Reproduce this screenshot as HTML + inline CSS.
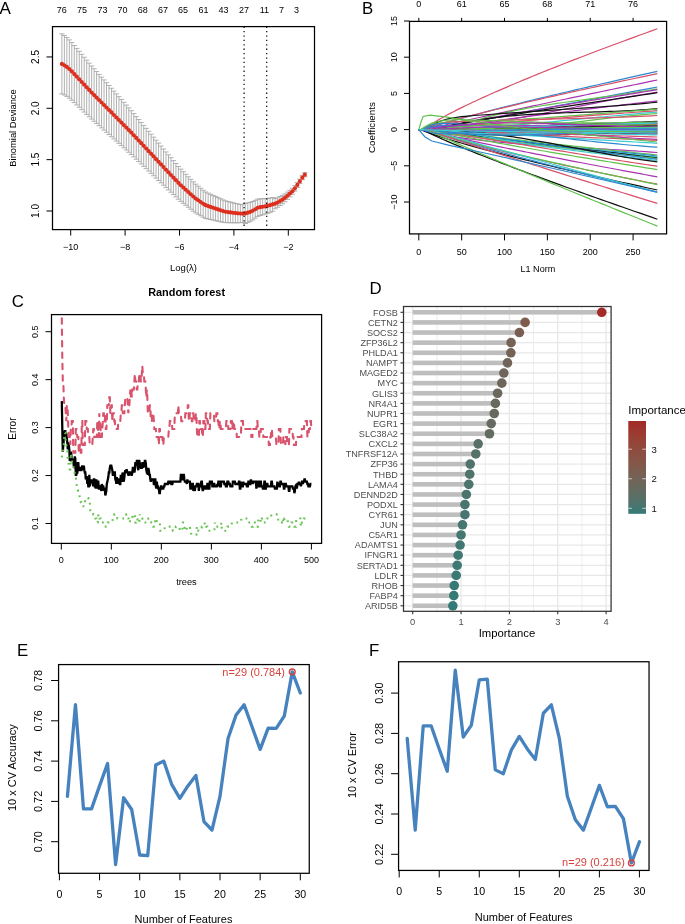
<!DOCTYPE html>
<html><head><meta charset="utf-8"><style>
html,body{margin:0;padding:0;background:#fff;width:685px;height:924px;overflow:hidden}
svg{display:block;filter:blur(0.3px);font-family:"Liberation Sans", sans-serif}
</style></head><body>
<svg width="685" height="924" viewBox="0 0 685 924">
<text x="-0.6" y="8.3" font-size="17" text-anchor="start" fill="#000" dominant-baseline="central">A</text>
<text x="61.7" y="9.7" font-size="9" text-anchor="middle" fill="#000" dominant-baseline="central">76</text>
<text x="82" y="9.7" font-size="9" text-anchor="middle" fill="#000" dominant-baseline="central">75</text>
<text x="102.5" y="9.7" font-size="9" text-anchor="middle" fill="#000" dominant-baseline="central">73</text>
<text x="122.4" y="9.7" font-size="9" text-anchor="middle" fill="#000" dominant-baseline="central">70</text>
<text x="142.7" y="9.7" font-size="9" text-anchor="middle" fill="#000" dominant-baseline="central">68</text>
<text x="163" y="9.7" font-size="9" text-anchor="middle" fill="#000" dominant-baseline="central">67</text>
<text x="183.1" y="9.7" font-size="9" text-anchor="middle" fill="#000" dominant-baseline="central">65</text>
<text x="203.4" y="9.7" font-size="9" text-anchor="middle" fill="#000" dominant-baseline="central">61</text>
<text x="223.6" y="9.7" font-size="9" text-anchor="middle" fill="#000" dominant-baseline="central">43</text>
<text x="244" y="9.7" font-size="9" text-anchor="middle" fill="#000" dominant-baseline="central">27</text>
<text x="264.3" y="9.7" font-size="9" text-anchor="middle" fill="#000" dominant-baseline="central">11</text>
<text x="281.4" y="9.7" font-size="9" text-anchor="middle" fill="#000" dominant-baseline="central">7</text>
<text x="296.6" y="9.7" font-size="9" text-anchor="middle" fill="#000" dominant-baseline="central">3</text>
<g stroke="#acacac" stroke-width="0.95">
<path d="M61.9 33.89V93.91M59.3 33.89H64.5M59.3 93.91H64.5"/>
<path d="M64.38 35.57V95.01M61.78 35.57H66.98M61.78 95.01H66.98"/>
<path d="M66.86 37.49V96.35M64.26 37.49H69.46M64.26 96.35H69.46"/>
<path d="M69.34 39.86V98.15M66.74 39.86H71.94M66.74 98.15H71.94"/>
<path d="M71.81 42.56V100.26M69.21 42.56H74.41M69.21 100.26H74.41"/>
<path d="M74.29 45.5V102.62M71.69 45.5H76.89M71.69 102.62H76.89"/>
<path d="M76.77 48.43V104.98M74.17 48.43H79.37M74.17 104.98H79.37"/>
<path d="M79.25 51.37V107.33M76.65 51.37H81.85M76.65 107.33H81.85"/>
<path d="M81.73 54.31V109.69M79.13 54.31H84.33M79.13 109.69H84.33"/>
<path d="M84.21 57.25V112.05M81.61 57.25H86.81M81.61 112.05H86.81"/>
<path d="M86.69 60.18V114.41M84.09 60.18H89.29M84.09 114.41H89.29"/>
<path d="M89.16 63.12V116.77M86.56 63.12H91.76M86.56 116.77H91.76"/>
<path d="M91.64 66.01V119.08M89.04 66.01H94.24M89.04 119.08H94.24"/>
<path d="M94.12 68.8V121.28M91.52 68.8H96.72M91.52 121.28H96.72"/>
<path d="M96.6 71.58V123.48M94 71.58H99.2M94 123.48H99.2"/>
<path d="M99.08 74.36V125.68M96.48 74.36H101.68M96.48 125.68H101.68"/>
<path d="M101.56 77.14V127.88M98.96 77.14H104.16M98.96 127.88H104.16"/>
<path d="M104.04 79.92V130.08M101.44 79.92H106.64M101.44 130.08H106.64"/>
<path d="M106.51 82.7V132.28M103.91 82.7H109.11M103.91 132.28H109.11"/>
<path d="M108.99 85.48V134.48M106.39 85.48H111.59M106.39 134.48H111.59"/>
<path d="M111.47 88.26V136.69M108.87 88.26H114.07M108.87 136.69H114.07"/>
<path d="M113.95 91.07V138.91M111.35 91.07H116.55M111.35 138.91H116.55"/>
<path d="M116.43 93.87V141.14M113.83 93.87H119.03M113.83 141.14H119.03"/>
<path d="M118.91 96.68V143.36M116.31 96.68H121.51M116.31 143.36H121.51"/>
<path d="M121.39 99.48V145.59M118.79 99.48H123.99M118.79 145.59H123.99"/>
<path d="M123.86 102.29V147.81M121.26 102.29H126.46M121.26 147.81H126.46"/>
<path d="M126.34 105.09V150.04M123.74 105.09H128.94M123.74 150.04H128.94"/>
<path d="M128.82 107.9V152.26M126.22 107.9H131.42M126.22 152.26H131.42"/>
<path d="M131.3 110.7V154.49M128.7 110.7H133.9M128.7 154.49H133.9"/>
<path d="M133.78 113.62V156.83M131.18 113.62H136.38M131.18 156.83H136.38"/>
<path d="M136.26 116.57V159.19M133.66 116.57H138.86M133.66 159.19H138.86"/>
<path d="M138.74 119.51V161.56M136.14 119.51H141.34M136.14 161.56H141.34"/>
<path d="M141.21 122.46V163.92M138.61 122.46H143.81M138.61 163.92H143.81"/>
<path d="M143.69 125.4V166.29M141.09 125.4H146.29M141.09 166.29H146.29"/>
<path d="M146.17 128.35V168.65M143.57 128.35H148.77M143.57 168.65H148.77"/>
<path d="M148.65 131.29V171.02M146.05 131.29H151.25M146.05 171.02H151.25"/>
<path d="M151.13 134.24V173.38M148.53 134.24H153.73M148.53 173.38H153.73"/>
<path d="M153.61 137.19V175.76M151.01 137.19H156.21M151.01 175.76H156.21"/>
<path d="M156.09 140.14V178.13M153.49 140.14H158.69M153.49 178.13H158.69"/>
<path d="M158.56 143.09V180.5M155.96 143.09H161.16M155.96 180.5H161.16"/>
<path d="M161.04 146.05V182.87M158.44 146.05H163.64M158.44 182.87H163.64"/>
<path d="M163.52 149V185.24M160.92 149H166.12M160.92 185.24H166.12"/>
<path d="M166 151.93V187.59M163.4 151.93H168.6M163.4 187.59H168.6"/>
<path d="M168.48 154.83V189.91M165.88 154.83H171.08M165.88 189.91H171.08"/>
<path d="M170.96 157.73V192.23M168.36 157.73H173.56M168.36 192.23H173.56"/>
<path d="M173.44 160.63V194.56M170.84 160.63H176.04M170.84 194.56H176.04"/>
<path d="M175.91 163.53V196.88M173.31 163.53H178.51M173.31 196.88H178.51"/>
<path d="M178.39 166.44V199.2M175.79 166.44H180.99M175.79 199.2H180.99"/>
<path d="M180.87 169.18V201.36M178.27 169.18H183.47M178.27 201.36H183.47"/>
<path d="M183.35 171.71V203.32M180.75 171.71H185.95M180.75 203.32H185.95"/>
<path d="M185.83 174.25V205.27M183.23 174.25H188.43M183.23 205.27H188.43"/>
<path d="M188.31 176.79V207.23M185.71 176.79H190.91M185.71 207.23H190.91"/>
<path d="M190.79 179.32V209.19M188.19 179.32H193.39M188.19 209.19H193.39"/>
<path d="M193.26 181.86V211.14M190.66 181.86H195.86M190.66 211.14H195.86"/>
<path d="M195.74 184.18V212.88M193.14 184.18H198.34M193.14 212.88H198.34"/>
<path d="M198.22 186.2V214.32M195.62 186.2H200.82M195.62 214.32H200.82"/>
<path d="M200.7 188.22V215.77M198.1 188.22H203.3M198.1 215.77H203.3"/>
<path d="M203.18 190.24V217.21M200.58 190.24H205.78M200.58 217.21H205.78"/>
<path d="M205.66 192.03V218.41M203.06 192.03H208.26M203.06 218.41H208.26"/>
<path d="M208.14 193.16V218.96M205.54 193.16H210.74M205.54 218.96H210.74"/>
<path d="M210.61 194.29V219.51M208.01 194.29H213.21M208.01 219.51H213.21"/>
<path d="M213.09 195.42V220.06M210.49 195.42H215.69M210.49 220.06H215.69"/>
<path d="M215.57 196.55V220.61M212.97 196.55H218.17M212.97 220.61H218.17"/>
<path d="M218.05 197.67V221.16M215.45 197.67H220.65M215.45 221.16H220.65"/>
<path d="M220.53 198.8V221.71M217.93 198.8H223.13M217.93 221.71H223.13"/>
<path d="M223.01 199.93V222.26M220.41 199.93H225.61M220.41 222.26H225.61"/>
<path d="M225.49 200.86V222.61M222.89 200.86H228.09M222.89 222.61H228.09"/>
<path d="M227.96 201.5V222.66M225.36 201.5H230.56M225.36 222.66H230.56"/>
<path d="M230.44 202.13V222.72M227.84 202.13H233.04M227.84 222.72H233.04"/>
<path d="M232.92 202.77V222.77M230.32 202.77H235.52M230.32 222.77H235.52"/>
<path d="M235.4 203.4V222.83M232.8 203.4H238M232.8 222.83H238"/>
<path d="M237.88 203.91V222.76M235.28 203.91H240.48M235.28 222.76H240.48"/>
<path d="M240.36 204.38V222.65M237.76 204.38H242.96M237.76 222.65H242.96"/>
<path d="M242.84 204.85V222.54M240.24 204.85H245.44M240.24 222.54H245.44"/>
<path d="M245.31 203.41V223.51M242.71 203.41H247.91M242.71 223.51H247.91"/>
<path d="M247.79 202.87V222.4M245.19 202.87H250.39M245.19 222.4H250.39"/>
<path d="M250.27 202.34V221.28M247.67 202.34H252.87M247.67 221.28H252.87"/>
<path d="M252.75 201.55V219.92M250.15 201.55H255.35M250.15 219.92H255.35"/>
<path d="M255.23 200.36V218.15M252.63 200.36H257.83M252.63 218.15H257.83"/>
<path d="M257.71 199.17V216.38M255.11 199.17H260.31M255.11 216.38H260.31"/>
<path d="M260.19 198.89V215.52M257.59 198.89H262.79M257.59 215.52H262.79"/>
<path d="M262.66 198.74V214.78M260.06 198.74H265.26M260.06 214.78H265.26"/>
<path d="M265.14 198.58V214.05M262.54 198.58H267.74M262.54 214.05H267.74"/>
<path d="M267.62 198.43V213.31M265.02 198.43H270.22M265.02 213.31H270.22"/>
<path d="M270.1 198.03V212.33M267.5 198.03H272.7M267.5 212.33H272.7"/>
<path d="M272.58 197.58V211.31M269.98 197.58H275.18M269.98 211.31H275.18"/>
<path d="M275.06 198.64V208.78M272.46 198.64H277.66M272.46 208.78H277.66"/>
<path d="M277.54 197.76V207.32M274.94 197.76H280.14M274.94 207.32H280.14"/>
<path d="M280.01 196.56V205.54M277.41 196.56H282.61M277.41 205.54H282.61"/>
<path d="M282.49 195.36V203.77M279.89 195.36H285.09M279.89 203.77H285.09"/>
<path d="M284.97 193.94V201.77M282.37 193.94H287.57M282.37 201.77H287.57"/>
<path d="M287.45 192.12V199.36M284.85 192.12H290.05M284.85 199.36H290.05"/>
<path d="M289.93 190.24V196.9M287.33 190.24H292.53M287.33 196.9H292.53"/>
<path d="M292.41 188.19V194.27M289.81 188.19H295.01M289.81 194.27H295.01"/>
<path d="M294.89 185.54V191.04M292.29 185.54H297.49M292.29 191.04H297.49"/>
<path d="M297.36 182.51V187.43M294.76 182.51H299.96M294.76 187.43H299.96"/>
<path d="M299.84 179.16V183.51M297.24 179.16H302.44M297.24 183.51H302.44"/>
<path d="M302.32 175.66V179.66M299.72 175.66H304.92M299.72 179.66H304.92"/>
<path d="M304.8 172.7V176.7M302.2 172.7H307.4M302.2 176.7H307.4"/>
</g>
<g fill="#dd2e1e">
<circle cx="61.9" cy="63.9" r="2.1"/>
<circle cx="64.38" cy="65.29" r="2.1"/>
<circle cx="66.86" cy="66.92" r="2.1"/>
<circle cx="69.34" cy="69.01" r="2.1"/>
<circle cx="71.81" cy="71.41" r="2.1"/>
<circle cx="74.29" cy="74.06" r="2.1"/>
<circle cx="76.77" cy="76.7" r="2.1"/>
<circle cx="79.25" cy="79.35" r="2.1"/>
<circle cx="81.73" cy="82" r="2.1"/>
<circle cx="84.21" cy="84.65" r="2.1"/>
<circle cx="86.69" cy="87.3" r="2.1"/>
<circle cx="89.16" cy="89.95" r="2.1"/>
<circle cx="91.64" cy="92.55" r="2.1"/>
<circle cx="94.12" cy="95.04" r="2.1"/>
<circle cx="96.6" cy="97.53" r="2.1"/>
<circle cx="99.08" cy="100.02" r="2.1"/>
<circle cx="101.56" cy="102.51" r="2.1"/>
<circle cx="104.04" cy="105" r="2.1"/>
<circle cx="106.51" cy="107.49" r="2.1"/>
<circle cx="108.99" cy="109.98" r="2.1"/>
<circle cx="111.47" cy="112.47" r="2.1"/>
<circle cx="113.95" cy="114.99" r="2.1"/>
<circle cx="116.43" cy="117.5" r="2.1"/>
<circle cx="118.91" cy="120.02" r="2.1"/>
<circle cx="121.39" cy="122.53" r="2.1"/>
<circle cx="123.86" cy="125.05" r="2.1"/>
<circle cx="126.34" cy="127.56" r="2.1"/>
<circle cx="128.82" cy="130.08" r="2.1"/>
<circle cx="131.3" cy="132.59" r="2.1"/>
<circle cx="133.78" cy="135.23" r="2.1"/>
<circle cx="136.26" cy="137.88" r="2.1"/>
<circle cx="138.74" cy="140.54" r="2.1"/>
<circle cx="141.21" cy="143.19" r="2.1"/>
<circle cx="143.69" cy="145.84" r="2.1"/>
<circle cx="146.17" cy="148.5" r="2.1"/>
<circle cx="148.65" cy="151.15" r="2.1"/>
<circle cx="151.13" cy="153.81" r="2.1"/>
<circle cx="153.61" cy="156.47" r="2.1"/>
<circle cx="156.09" cy="159.13" r="2.1"/>
<circle cx="158.56" cy="161.8" r="2.1"/>
<circle cx="161.04" cy="164.46" r="2.1"/>
<circle cx="163.52" cy="167.12" r="2.1"/>
<circle cx="166" cy="169.76" r="2.1"/>
<circle cx="168.48" cy="172.37" r="2.1"/>
<circle cx="170.96" cy="174.98" r="2.1"/>
<circle cx="173.44" cy="177.59" r="2.1"/>
<circle cx="175.91" cy="180.21" r="2.1"/>
<circle cx="178.39" cy="182.82" r="2.1"/>
<circle cx="180.87" cy="185.27" r="2.1"/>
<circle cx="183.35" cy="187.52" r="2.1"/>
<circle cx="185.83" cy="189.76" r="2.1"/>
<circle cx="188.31" cy="192.01" r="2.1"/>
<circle cx="190.79" cy="194.25" r="2.1"/>
<circle cx="193.26" cy="196.5" r="2.1"/>
<circle cx="195.74" cy="198.53" r="2.1"/>
<circle cx="198.22" cy="200.26" r="2.1"/>
<circle cx="200.7" cy="201.99" r="2.1"/>
<circle cx="203.18" cy="203.73" r="2.1"/>
<circle cx="205.66" cy="205.22" r="2.1"/>
<circle cx="208.14" cy="206.06" r="2.1"/>
<circle cx="210.61" cy="206.9" r="2.1"/>
<circle cx="213.09" cy="207.74" r="2.1"/>
<circle cx="215.57" cy="208.58" r="2.1"/>
<circle cx="218.05" cy="209.42" r="2.1"/>
<circle cx="220.53" cy="210.26" r="2.1"/>
<circle cx="223.01" cy="211.09" r="2.1"/>
<circle cx="225.49" cy="211.74" r="2.1"/>
<circle cx="227.96" cy="212.08" r="2.1"/>
<circle cx="230.44" cy="212.43" r="2.1"/>
<circle cx="232.92" cy="212.77" r="2.1"/>
<circle cx="235.4" cy="213.12" r="2.1"/>
<circle cx="237.88" cy="213.34" r="2.1"/>
<circle cx="240.36" cy="213.51" r="2.1"/>
<circle cx="242.84" cy="213.69" r="2.1"/>
<circle cx="245.31" cy="213.46" r="2.1"/>
<circle cx="247.79" cy="212.64" r="2.1"/>
<circle cx="250.27" cy="211.81" r="2.1"/>
<circle cx="252.75" cy="210.73" r="2.1"/>
<circle cx="255.23" cy="209.25" r="2.1"/>
<circle cx="257.71" cy="207.77" r="2.1"/>
<circle cx="260.19" cy="207.21" r="2.1"/>
<circle cx="262.66" cy="206.76" r="2.1"/>
<circle cx="265.14" cy="206.31" r="2.1"/>
<circle cx="267.62" cy="205.87" r="2.1"/>
<circle cx="270.1" cy="205.18" r="2.1"/>
<circle cx="272.58" cy="204.44" r="2.1"/>
<circle cx="275.06" cy="203.71" r="2.1"/>
<circle cx="277.54" cy="202.54" r="2.1"/>
<circle cx="280.01" cy="201.05" r="2.1"/>
<circle cx="282.49" cy="199.56" r="2.1"/>
<circle cx="284.97" cy="197.86" r="2.1"/>
<circle cx="287.45" cy="195.74" r="2.1"/>
<circle cx="289.93" cy="193.57" r="2.1"/>
<circle cx="292.41" cy="191.23" r="2.1"/>
<circle cx="294.89" cy="188.29" r="2.1"/>
<circle cx="297.36" cy="184.97" r="2.1"/>
<circle cx="299.84" cy="181.34" r="2.1"/>
<circle cx="302.32" cy="177.66" r="2.1"/>
<circle cx="304.8" cy="174.7" r="2.1"/>
</g>
<line x1="244.1" y1="26.6" x2="244.1" y2="229.6" stroke="#000" stroke-width="1.2" stroke-dasharray="1.3 3.1"/>
<line x1="266.7" y1="26.6" x2="266.7" y2="229.6" stroke="#000" stroke-width="1.2" stroke-dasharray="1.3 3.1"/>
<rect x="52.5" y="26.6" width="262" height="203" stroke="#000" stroke-width="1.25" fill="none"/>
<line x1="70.7" y1="229.6" x2="70.7" y2="235.6" stroke="#000" stroke-width="1"/>
<text x="70.7" y="246.8" font-size="9" text-anchor="middle" fill="#000" dominant-baseline="central">&#8722;10</text>
<line x1="125.1" y1="229.6" x2="125.1" y2="235.6" stroke="#000" stroke-width="1"/>
<text x="125.1" y="246.8" font-size="9" text-anchor="middle" fill="#000" dominant-baseline="central">&#8722;8</text>
<line x1="179.5" y1="229.6" x2="179.5" y2="235.6" stroke="#000" stroke-width="1"/>
<text x="179.5" y="246.8" font-size="9" text-anchor="middle" fill="#000" dominant-baseline="central">&#8722;6</text>
<line x1="233.9" y1="229.6" x2="233.9" y2="235.6" stroke="#000" stroke-width="1"/>
<text x="233.9" y="246.8" font-size="9" text-anchor="middle" fill="#000" dominant-baseline="central">&#8722;4</text>
<line x1="288.3" y1="229.6" x2="288.3" y2="235.6" stroke="#000" stroke-width="1"/>
<text x="288.3" y="246.8" font-size="9" text-anchor="middle" fill="#000" dominant-baseline="central">&#8722;2</text>
<line x1="46.5" y1="211" x2="52.5" y2="211" stroke="#000" stroke-width="1"/>
<text x="35.6" y="211" font-size="10" text-anchor="middle" fill="#000" transform="rotate(-90 35.6 211)" dominant-baseline="central">1.0</text>
<line x1="46.5" y1="159.65" x2="52.5" y2="159.65" stroke="#000" stroke-width="1"/>
<text x="35.6" y="159.65" font-size="10" text-anchor="middle" fill="#000" transform="rotate(-90 35.6 159.65)" dominant-baseline="central">1.5</text>
<line x1="46.5" y1="108.3" x2="52.5" y2="108.3" stroke="#000" stroke-width="1"/>
<text x="35.6" y="108.3" font-size="10" text-anchor="middle" fill="#000" transform="rotate(-90 35.6 108.3)" dominant-baseline="central">2.0</text>
<line x1="46.5" y1="56.95" x2="52.5" y2="56.95" stroke="#000" stroke-width="1"/>
<text x="35.6" y="56.95" font-size="10" text-anchor="middle" fill="#000" transform="rotate(-90 35.6 56.95)" dominant-baseline="central">2.5</text>
<text x="13.4" y="128" font-size="9.35" text-anchor="middle" fill="#000" transform="rotate(-90 13.4 128)" dominant-baseline="central">Binomial Deviance</text>
<text x="183.5" y="267" font-size="9.5" text-anchor="middle" fill="#000" dominant-baseline="central">Log(&#955;)</text>
<text x="362" y="8" font-size="16.8" text-anchor="start" fill="#000" dominant-baseline="central">B</text>
<clipPath id="cb"><rect x="409.5" y="21.4" width="257.1" height="212.5"/></clipPath>
<g clip-path="url(#cb)" fill="none" stroke-width="1.2">
<path d="M418.8 129.6 L424.42 129.6 L424.93 128.98 L425.84 128.14 L427.03 127.18 L428.43 126.14 L430.03 125.03 L431.79 123.87 L433.71 122.66 L435.76 121.4 L437.96 120.11 L440.27 118.77 L442.71 117.41 L445.26 116.01 L447.91 114.59 L450.68 113.14 L453.54 111.66 L456.5 110.16 L459.55 108.64 L462.69 107.09 L465.93 105.52 L469.25 103.94 L472.65 102.33 L476.14 100.7 L479.7 99.06 L483.35 97.39 L487.07 95.72 L490.86 94.02 L494.73 92.31 L498.67 90.58 L502.69 88.84 L506.77 87.08 L510.92 85.31 L515.14 83.52 L519.42 81.72 L523.78 79.91 L528.19 78.08 L532.67 76.24 L537.21 74.39 L541.81 72.53 L546.48 70.65 L551.2 68.76 L555.99 66.86 L560.83 64.95 L565.73 63.03 L570.69 61.09 L575.7 59.15 L580.77 57.2 L585.9 55.23 L591.08 53.25 L596.31 51.27 L601.6 49.27 L606.94 47.27 L612.34 45.25 L617.79 43.23 L623.28 41.19 L628.83 39.15 L634.43 37.1 L640.08 35.04 L645.78 32.97 L651.53 30.89 L657.33 28.8" stroke="#D9506A"/>
<path d="M418.8 129.6 L426.42 129.6 L426.92 129.33 L427.83 128.92 L429.01 128.45 L430.4 127.92 L431.98 127.35 L433.73 126.75 L435.63 126.11 L437.67 125.44 L439.84 124.75 L442.13 124.03 L444.55 123.29 L447.08 122.53 L449.71 121.75 L452.45 120.95 L455.29 120.13 L458.22 119.29 L461.25 118.44 L464.37 117.57 L467.57 116.69 L470.86 115.8 L474.24 114.88 L477.69 113.96 L481.23 113.02 L484.84 112.07 L488.53 111.11 L492.29 110.13 L496.13 109.15 L500.04 108.15 L504.01 107.14 L508.06 106.12 L512.18 105.09 L516.36 104.05 L520.61 103 L524.92 101.94 L529.3 100.87 L533.74 99.79 L538.24 98.7 L542.81 97.6 L547.43 96.49 L552.11 95.38 L556.86 94.25 L561.66 93.12 L566.52 91.98 L571.43 90.83 L576.4 89.67 L581.43 88.5 L586.51 87.33 L591.65 86.15 L596.84 84.96 L602.08 83.76 L607.38 82.56 L612.72 81.35 L618.12 80.13 L623.58 78.9 L629.08 77.67 L634.63 76.43 L640.23 75.18 L645.88 73.93 L651.58 72.67 L657.33 71.4" stroke="#2E88D0"/>
<path d="M418.8 129.6 L421.72 129.6 L422.23 129.36 L423.16 128.99 L424.36 128.56 L425.78 128.07 L427.39 127.55 L429.18 126.98 L431.11 126.39 L433.2 125.76 L435.41 125.11 L437.76 124.43 L440.22 123.74 L442.8 123.02 L445.49 122.28 L448.28 121.52 L451.18 120.74 L454.17 119.95 L457.26 119.14 L460.44 118.31 L463.71 117.47 L467.07 116.61 L470.51 115.74 L474.04 114.86 L477.64 113.96 L481.33 113.05 L485.09 112.12 L488.93 111.19 L492.85 110.24 L496.83 109.28 L500.89 108.31 L505.02 107.33 L509.22 106.33 L513.49 105.33 L517.83 104.32 L522.23 103.29 L526.69 102.26 L531.22 101.21 L535.82 100.16 L540.48 99.1 L545.19 98.02 L549.97 96.94 L554.81 95.85 L559.71 94.75 L564.67 93.65 L569.68 92.53 L574.76 91.4 L579.88 90.27 L585.07 89.13 L590.31 87.98 L595.61 86.82 L600.96 85.66 L606.36 84.49 L611.82 83.31 L617.33 82.12 L622.89 80.92 L628.5 79.72 L634.17 78.51 L639.88 77.29 L645.65 76.07 L651.47 74.84 L657.33 73.6" stroke="#D9506A"/>
<path d="M418.8 129.6 L425.37 129.6 L425.87 129.47 L426.79 129.24 L427.97 128.95 L429.37 128.62 L430.95 128.24 L432.71 127.83 L434.62 127.39 L436.67 126.92 L438.85 126.42 L441.16 125.9 L443.58 125.35 L446.12 124.78 L448.77 124.18 L451.52 123.57 L454.37 122.94 L457.32 122.28 L460.36 121.61 L463.49 120.92 L466.71 120.22 L470.01 119.49 L473.4 118.75 L476.87 118 L480.43 117.23 L484.05 116.44 L487.76 115.64 L491.54 114.82 L495.39 113.99 L499.32 113.15 L503.32 112.29 L507.38 111.42 L511.52 110.54 L515.72 109.64 L519.99 108.73 L524.32 107.81 L528.72 106.87 L533.18 105.93 L537.7 104.97 L542.28 104 L546.93 103.02 L551.64 102.03 L556.4 101.02 L561.22 100.01 L566.1 98.98 L571.04 97.95 L576.03 96.9 L581.08 95.84 L586.19 94.77 L591.35 93.7 L596.56 92.61 L601.83 91.51 L607.15 90.4 L612.52 89.28 L617.95 88.16 L623.42 87.02 L628.95 85.87 L634.53 84.72 L640.15 83.55 L645.83 82.38 L651.56 81.19 L657.33 80" stroke="#A832B0"/>
<path d="M418.8 129.6 L432.24 129.6 L432.73 129.5 L433.61 129.33 L434.76 129.1 L436.12 128.83 L437.66 128.53 L439.36 128.2 L441.21 127.84 L443.2 127.46 L445.32 127.05 L447.56 126.62 L449.91 126.17 L452.38 125.69 L454.94 125.2 L457.61 124.69 L460.38 124.16 L463.24 123.61 L466.19 123.05 L469.23 122.47 L472.35 121.87 L475.56 121.26 L478.85 120.63 L482.22 119.99 L485.67 119.34 L489.19 118.67 L492.78 117.98 L496.45 117.29 L500.19 116.58 L504 115.86 L507.88 115.12 L511.82 114.37 L515.84 113.61 L519.91 112.84 L524.06 112.06 L528.26 111.27 L532.53 110.46 L536.86 109.64 L541.24 108.81 L545.69 107.97 L550.2 107.12 L554.77 106.26 L559.39 105.39 L564.07 104.51 L568.8 103.62 L573.6 102.72 L578.44 101.81 L583.34 100.88 L588.3 99.95 L593.3 99.01 L598.36 98.06 L603.47 97.1 L608.64 96.13 L613.85 95.15 L619.11 94.16 L624.43 93.17 L629.79 92.16 L635.2 91.15 L640.66 90.12 L646.17 89.09 L651.73 88.05 L657.33 87" stroke="#2E88D0"/>
<path d="M418.8 129.6 L427.3 129.6 L427.79 129.75 L428.7 129.98 L429.87 130.23 L431.26 130.45 L432.83 130.61 L434.57 130.68 L436.47 130.65 L438.5 130.51 L440.66 130.26 L442.95 129.89 L445.36 129.42 L447.87 128.84 L450.5 128.17 L453.23 127.42 L456.05 126.59 L458.98 125.71 L461.99 124.77 L465.1 123.8 L468.29 122.8 L471.57 121.78 L474.93 120.75 L478.37 119.71 L481.89 118.69 L485.49 117.66 L489.17 116.66 L492.92 115.67 L496.74 114.7 L500.63 113.75 L504.6 112.83 L508.63 111.93 L512.73 111.05 L516.9 110.2 L521.13 109.37 L525.42 108.57 L529.79 107.78 L534.21 107.01 L538.69 106.26 L543.24 105.53 L547.85 104.81 L552.51 104.1 L557.24 103.41 L562.02 102.72 L566.86 102.03 L571.76 101.35 L576.71 100.67 L581.72 99.99 L586.78 99.31 L591.9 98.61 L597.07 97.91 L602.29 97.2 L607.57 96.48 L612.89 95.74 L618.27 94.97 L623.7 94.19 L629.18 93.38 L634.72 92.53 L640.3 91.66 L645.93 90.75 L651.6 89.8 L657.33 88.81" stroke="#5FC24A"/>
<path d="M418.8 129.6 L431.03 129.6 L431.52 129.45 L432.41 129.22 L433.56 128.94 L434.93 128.62 L436.48 128.27 L438.19 127.89 L440.05 127.49 L442.05 127.07 L444.18 126.62 L446.43 126.16 L448.8 125.68 L451.27 125.19 L453.86 124.68 L456.54 124.15 L459.32 123.61 L462.2 123.06 L465.16 122.49 L468.22 121.92 L471.36 121.33 L474.58 120.72 L477.89 120.11 L481.28 119.49 L484.74 118.85 L488.28 118.21 L491.9 117.55 L495.59 116.89 L499.35 116.22 L503.18 115.53 L507.07 114.84 L511.04 114.14 L515.08 113.43 L519.17 112.72 L523.34 111.99 L527.57 111.26 L531.86 110.51 L536.21 109.76 L540.62 109.01 L545.09 108.24 L549.62 107.47 L554.21 106.69 L558.86 105.9 L563.57 105.11 L568.33 104.3 L573.15 103.5 L578.02 102.68 L582.94 101.86 L587.92 101.03 L592.96 100.2 L598.05 99.36 L603.18 98.51 L608.37 97.65 L613.62 96.79 L618.91 95.93 L624.25 95.06 L629.64 94.18 L635.08 93.29 L640.57 92.4 L646.11 91.51 L651.7 90.61 L657.33 89.7" stroke="#A832B0"/>
<path d="M418.8 129.6 L421.01 129.6 L421.52 129.54 L422.45 129.46 L423.65 129.37 L425.08 129.28 L426.69 129.17 L428.48 129.06 L430.43 128.94 L432.51 128.8 L434.74 128.65 L437.09 128.49 L439.56 128.31 L442.15 128.11 L444.84 127.9 L447.64 127.66 L450.55 127.4 L453.55 127.12 L456.65 126.82 L459.84 126.49 L463.12 126.13 L466.49 125.75 L469.94 125.35 L473.48 124.91 L477.1 124.45 L480.79 123.95 L484.57 123.43 L488.42 122.88 L492.35 122.3 L496.35 121.69 L500.42 121.05 L504.56 120.38 L508.77 119.68 L513.05 118.95 L517.4 118.19 L521.82 117.4 L526.3 116.59 L530.84 115.75 L535.45 114.89 L540.12 114 L544.85 113.09 L549.65 112.15 L554.5 111.2 L559.41 110.23 L564.39 109.24 L569.42 108.23 L574.5 107.22 L579.65 106.19 L584.85 105.15 L590.11 104.11 L595.42 103.06 L600.78 102.02 L606.21 100.97 L611.68 99.93 L617.21 98.9 L622.78 97.88 L628.41 96.87 L634.1 95.88 L639.83 94.92 L645.61 93.98 L651.45 93.07 L657.33 92.2" stroke="#A832B0"/>
<path d="M418.8 129.6 L430.89 129.6 L431.38 129.47 L432.27 129.25 L433.42 128.99 L434.79 128.69 L436.34 128.36 L438.05 128 L439.92 127.62 L441.92 127.22 L444.05 126.79 L446.3 126.35 L448.67 125.9 L451.15 125.43 L453.73 124.94 L456.41 124.44 L459.2 123.93 L462.07 123.4 L465.04 122.87 L468.1 122.32 L471.24 121.77 L474.47 121.2 L477.78 120.62 L481.17 120.04 L484.64 119.44 L488.18 118.84 L491.8 118.23 L495.49 117.61 L499.25 116.99 L503.08 116.35 L506.98 115.71 L510.95 115.07 L514.99 114.41 L519.09 113.75 L523.25 113.09 L527.48 112.41 L531.78 111.73 L536.13 111.05 L540.55 110.36 L545.02 109.66 L549.56 108.96 L554.15 108.25 L558.8 107.53 L563.51 106.81 L568.27 106.08 L573.09 105.35 L577.97 104.61 L582.9 103.86 L587.88 103.11 L592.92 102.35 L598.01 101.59 L603.15 100.82 L608.34 100.04 L613.59 99.25 L618.88 98.46 L624.23 97.66 L629.62 96.85 L635.07 96.04 L640.56 95.22 L646.1 94.39 L651.69 93.55 L657.33 92.7" stroke="#111111"/>
<path d="M418.8 129.6 L435.45 129.6 L435.93 129.48 L436.8 129.3 L437.93 129.08 L439.27 128.84 L440.79 128.57 L442.47 128.29 L444.3 127.99 L446.26 127.67 L448.34 127.34 L450.55 127 L452.87 126.64 L455.3 126.28 L457.83 125.9 L460.46 125.52 L463.19 125.12 L466.01 124.72 L468.92 124.3 L471.91 123.88 L474.99 123.45 L478.15 123.01 L481.4 122.57 L484.72 122.12 L488.11 121.66 L491.58 121.19 L495.13 120.72 L498.75 120.24 L502.43 119.75 L506.19 119.26 L510.01 118.76 L513.9 118.26 L517.85 117.75 L521.87 117.24 L525.96 116.72 L530.1 116.19 L534.31 115.66 L538.57 115.12 L542.9 114.58 L547.28 114.04 L551.73 113.48 L556.23 112.93 L560.79 112.37 L565.4 111.8 L570.07 111.23 L574.79 110.66 L579.57 110.08 L584.4 109.5 L589.28 108.91 L594.22 108.32 L599.2 107.72 L604.24 107.12 L609.33 106.52 L614.47 105.91 L619.66 105.29 L624.9 104.68 L630.18 104.06 L635.52 103.43 L640.9 102.81 L646.33 102.17 L651.81 101.54 L657.33 100.9" stroke="#A832B0"/>
<path d="M418.8 129.6 L426.55 129.6 L427.04 129.1 L427.95 128.28 L429.13 127.31 L430.52 126.27 L432.1 125.2 L433.85 124.15 L435.74 123.13 L437.78 122.17 L439.96 121.28 L442.25 120.47 L444.66 119.73 L447.19 119.07 L449.82 118.48 L452.56 117.95 L455.4 117.49 L458.33 117.07 L461.35 116.7 L464.47 116.37 L467.67 116.06 L470.96 115.77 L474.33 115.51 L477.79 115.25 L481.32 115 L484.93 114.75 L488.62 114.5 L492.38 114.24 L496.21 113.98 L500.12 113.72 L504.1 113.45 L508.14 113.18 L512.26 112.89 L516.44 112.61 L520.68 112.31 L524.99 112.01 L529.37 111.71 L533.81 111.4 L538.31 111.09 L542.87 110.78 L547.49 110.46 L552.17 110.14 L556.91 109.82 L561.71 109.5 L566.56 109.17 L571.48 108.84 L576.45 108.51 L581.47 108.17 L586.55 107.83 L591.68 107.48 L596.87 107.12 L602.11 106.76 L607.4 106.38 L612.75 105.99 L618.15 105.59 L623.59 105.17 L629.09 104.73 L634.64 104.28 L640.24 103.8 L645.89 103.29 L651.59 102.76 L657.33 102.19" stroke="#111111"/>
<path d="M418.8 129.6 L437.55 129.6 L438.02 129.45 L438.89 129.18 L440.01 128.84 L441.34 128.45 L442.84 128.02 L444.5 127.55 L446.31 127.06 L448.25 126.54 L450.32 126.01 L452.51 125.46 L454.8 124.9 L457.21 124.34 L459.72 123.77 L462.32 123.2 L465.02 122.63 L467.82 122.07 L470.7 121.51 L473.67 120.97 L476.72 120.43 L479.85 119.9 L483.06 119.39 L486.35 118.89 L489.71 118.41 L493.15 117.94 L496.66 117.49 L500.25 117.06 L503.9 116.65 L507.62 116.26 L511.4 115.89 L515.26 115.54 L519.17 115.21 L523.15 114.9 L527.2 114.61 L531.3 114.34 L535.47 114.09 L539.7 113.85 L543.98 113.63 L548.33 113.43 L552.73 113.24 L557.18 113.07 L561.7 112.91 L566.27 112.75 L570.89 112.61 L575.57 112.47 L580.3 112.33 L585.09 112.2 L589.92 112.07 L594.81 111.93 L599.75 111.78 L604.74 111.62 L609.78 111.45 L614.87 111.27 L620.01 111.06 L625.2 110.83 L630.44 110.57 L635.72 110.28 L641.06 109.95 L646.43 109.58 L651.86 109.17 L657.33 108.7" stroke="#111111"/>
<path d="M418.8 129.6 L421.33 129.6 L421.84 129.25 L422.77 128.66 L423.97 127.96 L425.39 127.22 L427.01 126.47 L428.79 125.74 L430.73 125.06 L432.82 124.44 L435.04 123.87 L437.39 123.38 L439.86 122.96 L442.44 122.6 L445.13 122.3 L447.93 122.06 L450.83 121.86 L453.83 121.7 L456.92 121.58 L460.11 121.48 L463.38 121.39 L466.75 121.32 L470.2 121.25 L473.73 121.18 L477.34 121.1 L481.03 121.02 L484.8 120.92 L488.65 120.8 L492.57 120.67 L496.57 120.52 L500.63 120.35 L504.77 120.17 L508.98 119.96 L513.25 119.74 L517.59 119.5 L522 119.24 L526.47 118.97 L531.01 118.68 L535.61 118.37 L540.28 118.06 L545.01 117.73 L549.79 117.39 L554.64 117.04 L559.55 116.67 L564.51 116.31 L569.54 115.93 L574.62 115.54 L579.75 115.15 L584.95 114.76 L590.2 114.35 L595.5 113.94 L600.86 113.53 L606.27 113.11 L611.74 112.69 L617.26 112.27 L622.83 111.84 L628.45 111.41 L634.13 110.97 L639.85 110.53 L645.63 110.09 L651.46 109.64 L657.33 109.19" stroke="#5FC24A"/>
<path d="M418.8 129.6 L439.41 129.6 L439.88 129.47 L440.74 129.31 L441.85 129.12 L443.16 128.91 L444.66 128.7 L446.3 128.47 L448.1 128.24 L450.02 127.99 L452.07 127.74 L454.24 127.49 L456.52 127.23 L458.9 126.96 L461.39 126.69 L463.98 126.41 L466.65 126.13 L469.42 125.85 L472.28 125.56 L475.22 125.27 L478.25 124.97 L481.35 124.67 L484.54 124.37 L487.8 124.06 L491.13 123.75 L494.54 123.44 L498.02 123.12 L501.58 122.8 L505.2 122.48 L508.88 122.16 L512.64 121.83 L516.46 121.51 L520.34 121.17 L524.29 120.84 L528.3 120.5 L532.37 120.17 L536.5 119.83 L540.69 119.48 L544.94 119.14 L549.25 118.79 L553.61 118.44 L558.03 118.09 L562.51 117.74 L567.04 117.38 L571.62 117.03 L576.26 116.67 L580.96 116.31 L585.7 115.94 L590.5 115.58 L595.34 115.21 L600.24 114.85 L605.19 114.48 L610.19 114.11 L615.23 113.74 L620.33 113.36 L625.47 112.99 L630.67 112.61 L635.91 112.23 L641.19 111.85 L646.53 111.47 L651.91 111.08 L657.33 110.7" stroke="#D9506A"/>
<path d="M418.8 129.6 L435.71 129.6 L436.19 129.58 L437.06 129.55 L438.19 129.51 L439.52 129.47 L441.04 129.42 L442.72 129.36 L444.54 129.3 L446.5 129.23 L448.58 129.15 L450.79 129.07 L453.11 128.97 L455.53 128.87 L458.06 128.76 L460.69 128.63 L463.41 128.5 L466.23 128.36 L469.13 128.21 L472.12 128.04 L475.2 127.87 L478.36 127.68 L481.6 127.48 L484.91 127.27 L488.31 127.04 L491.77 126.81 L495.32 126.56 L498.93 126.3 L502.61 126.02 L506.36 125.73 L510.18 125.43 L514.06 125.12 L518.01 124.8 L522.03 124.46 L526.11 124.11 L530.25 123.75 L534.45 123.38 L538.71 122.99 L543.03 122.6 L547.41 122.19 L551.85 121.78 L556.34 121.35 L560.9 120.92 L565.5 120.47 L570.17 120.03 L574.88 119.57 L579.66 119.11 L584.48 118.64 L589.36 118.16 L594.29 117.69 L599.27 117.21 L604.3 116.73 L609.39 116.25 L614.52 115.77 L619.7 115.29 L624.93 114.81 L630.21 114.34 L635.54 113.88 L640.92 113.42 L646.34 112.97 L651.81 112.53 L657.33 112.1" stroke="#3CCCD0"/>
<path d="M418.8 129.6 L429.44 129.6 L429.93 129.63 L430.83 129.7 L431.99 129.78 L433.37 129.87 L434.92 129.97 L436.65 130.08 L438.52 130.19 L440.54 130.29 L442.68 130.4 L444.95 130.5 L447.33 130.59 L449.83 130.67 L452.43 130.74 L455.13 130.8 L457.93 130.85 L460.82 130.87 L463.81 130.88 L466.89 130.87 L470.05 130.84 L473.3 130.79 L476.63 130.72 L480.04 130.63 L483.53 130.51 L487.09 130.37 L490.73 130.2 L494.45 130.01 L498.23 129.79 L502.09 129.55 L506.02 129.28 L510.01 128.98 L514.08 128.66 L518.2 128.31 L522.4 127.94 L526.65 127.55 L530.97 127.13 L535.36 126.69 L539.8 126.23 L544.3 125.74 L548.87 125.24 L553.49 124.71 L558.17 124.17 L562.91 123.62 L567.7 123.05 L572.55 122.47 L577.46 121.88 L582.42 121.28 L587.44 120.67 L592.51 120.06 L597.63 119.46 L602.8 118.85 L608.03 118.25 L613.31 117.65 L618.64 117.07 L624.02 116.5 L629.45 115.95 L634.93 115.42 L640.45 114.92 L646.03 114.45 L651.66 114 L657.33 113.6" stroke="#5FC24A"/>
<path d="M418.8 129.6 L424.58 129.6 L425.08 129.29 L426 128.77 L427.19 128.13 L428.59 127.45 L430.18 126.74 L431.94 126.05 L433.86 125.39 L435.92 124.77 L438.11 124.2 L440.42 123.69 L442.85 123.23 L445.4 122.83 L448.06 122.49 L450.82 122.19 L453.68 121.94 L456.63 121.72 L459.69 121.54 L462.83 121.38 L466.06 121.25 L469.38 121.13 L472.78 121.03 L476.26 120.93 L479.82 120.85 L483.46 120.76 L487.18 120.67 L490.98 120.59 L494.84 120.5 L498.78 120.41 L502.79 120.31 L506.87 120.22 L511.02 120.12 L515.24 120.01 L519.52 119.9 L523.87 119.79 L528.28 119.68 L532.76 119.57 L537.29 119.45 L541.89 119.33 L546.55 119.21 L551.28 119.09 L556.06 118.97 L560.9 118.85 L565.79 118.73 L570.75 118.6 L575.76 118.47 L580.82 118.34 L585.95 118.21 L591.12 118.07 L596.36 117.92 L601.64 117.77 L606.98 117.61 L612.37 117.44 L617.81 117.25 L623.31 117.06 L628.85 116.85 L634.45 116.62 L640.09 116.37 L645.79 116.1 L651.54 115.81 L657.33 115.5" stroke="#D9506A"/>
<path d="M418.8 129.6 L427.07 129.6 L427.56 129.87 L428.47 130.33 L429.64 130.88 L431.03 131.45 L432.61 132.01 L434.35 132.53 L436.24 132.98 L438.28 133.35 L440.44 133.64 L442.73 133.85 L445.14 133.96 L447.66 133.99 L450.29 133.94 L453.02 133.83 L455.85 133.64 L458.78 133.41 L461.79 133.13 L464.9 132.81 L468.1 132.47 L471.38 132.1 L474.75 131.73 L478.19 131.34 L481.72 130.95 L485.32 130.56 L489 130.18 L492.75 129.8 L496.58 129.43 L500.47 129.08 L504.44 128.73 L508.48 128.4 L512.58 128.08 L516.75 127.77 L520.99 127.48 L525.29 127.19 L529.66 126.92 L534.08 126.65 L538.57 126.39 L543.12 126.14 L547.74 125.89 L552.41 125.66 L557.14 125.42 L561.92 125.19 L566.77 124.97 L571.67 124.74 L576.63 124.52 L581.64 124.3 L586.71 124.09 L591.83 123.87 L597.01 123.66 L602.23 123.45 L607.52 123.24 L612.85 123.03 L618.23 122.82 L623.67 122.61 L629.16 122.4 L634.69 122.2 L640.28 122 L645.91 121.8 L651.6 121.6 L657.33 121.41" stroke="#111111"/>
<path d="M418.8 129.6 L423.48 129.6 L423.98 129.41 L424.9 129.1 L426.09 128.73 L427.5 128.34 L429.1 127.95 L430.87 127.57 L432.79 127.23 L434.86 126.91 L437.06 126.64 L439.39 126.41 L441.83 126.22 L444.39 126.07 L447.06 125.95 L449.83 125.87 L452.71 125.82 L455.68 125.79 L458.74 125.78 L461.9 125.79 L465.15 125.81 L468.48 125.83 L471.9 125.86 L475.4 125.89 L478.98 125.92 L482.64 125.94 L486.37 125.95 L490.18 125.96 L494.07 125.96 L498.03 125.96 L502.06 125.94 L506.16 125.91 L510.32 125.87 L514.56 125.82 L518.86 125.77 L523.23 125.7 L527.66 125.63 L532.16 125.55 L536.72 125.46 L541.34 125.36 L546.03 125.26 L550.77 125.16 L555.57 125.05 L560.44 124.93 L565.36 124.81 L570.33 124.68 L575.37 124.56 L580.46 124.43 L585.61 124.29 L590.81 124.16 L596.07 124.02 L601.38 123.88 L606.74 123.74 L612.16 123.59 L617.62 123.45 L623.14 123.3 L628.72 123.15 L634.34 123 L640.01 122.85 L645.74 122.7 L651.51 122.55 L657.33 122.4" stroke="#A832B0"/>
<path d="M418.8 129.6 L428.42 129.6 L428.92 129.58 L429.82 129.54 L430.98 129.49 L432.37 129.44 L433.93 129.39 L435.66 129.33 L437.55 129.26 L439.57 129.2 L441.72 129.13 L444 129.05 L446.39 128.98 L448.9 128.9 L451.51 128.82 L454.23 128.74 L457.04 128.65 L459.95 128.56 L462.95 128.47 L466.04 128.38 L469.22 128.29 L472.48 128.19 L475.82 128.1 L479.25 128 L482.75 127.9 L486.33 127.8 L489.99 127.69 L493.72 127.59 L497.52 127.48 L501.4 127.37 L505.34 127.26 L509.36 127.15 L513.44 127.04 L517.58 126.93 L521.79 126.81 L526.07 126.7 L530.41 126.58 L534.81 126.46 L539.27 126.34 L543.8 126.22 L548.38 126.1 L553.03 125.98 L557.73 125.85 L562.49 125.73 L567.3 125.6 L572.18 125.47 L577.1 125.35 L582.09 125.22 L587.12 125.09 L592.22 124.95 L597.36 124.82 L602.56 124.69 L607.81 124.55 L613.11 124.42 L618.46 124.28 L623.87 124.14 L629.32 124.01 L634.83 123.87 L640.38 123.73 L645.98 123.58 L651.63 123.44 L657.33 123.3" stroke="#A832B0"/>
<path d="M418.8 129.6 L437.31 129.6 L437.79 129.6 L438.65 129.6 L439.77 129.62 L441.1 129.63 L442.61 129.65 L444.27 129.68 L446.08 129.7 L448.02 129.73 L450.09 129.75 L452.28 129.77 L454.58 129.79 L456.99 129.81 L459.5 129.83 L462.11 129.84 L464.82 129.84 L467.61 129.85 L470.5 129.84 L473.47 129.83 L476.52 129.82 L479.66 129.79 L482.87 129.76 L486.16 129.72 L489.53 129.68 L492.97 129.63 L496.49 129.57 L500.07 129.5 L503.73 129.42 L507.45 129.33 L511.24 129.24 L515.1 129.14 L519.02 129.02 L523.01 128.9 L527.06 128.78 L531.17 128.64 L535.34 128.5 L539.57 128.35 L543.86 128.19 L548.21 128.02 L552.61 127.85 L557.08 127.68 L561.59 127.49 L566.17 127.31 L570.8 127.11 L575.48 126.92 L580.22 126.72 L585.01 126.52 L589.85 126.32 L594.75 126.11 L599.69 125.91 L604.69 125.71 L609.73 125.51 L614.83 125.31 L619.97 125.12 L625.17 124.94 L630.41 124.75 L635.7 124.58 L641.04 124.42 L646.42 124.27 L651.85 124.13 L657.33 124" stroke="#2E88D0"/>
<path d="M418.8 129.6 L437.75 129.6 L438.22 129.65 L439.08 129.74 L440.2 129.86 L441.53 129.99 L443.03 130.13 L444.69 130.29 L446.5 130.45 L448.44 130.62 L450.5 130.78 L452.69 130.95 L454.98 131.11 L457.39 131.27 L459.89 131.43 L462.5 131.58 L465.19 131.72 L467.98 131.84 L470.86 131.96 L473.83 132.07 L476.88 132.16 L480.01 132.24 L483.21 132.3 L486.5 132.35 L489.86 132.38 L493.3 132.39 L496.8 132.39 L500.38 132.37 L504.03 132.33 L507.75 132.27 L511.53 132.19 L515.38 132.1 L519.29 131.98 L523.27 131.85 L527.31 131.7 L531.41 131.53 L535.58 131.35 L539.8 131.15 L544.08 130.93 L548.42 130.7 L552.82 130.45 L557.27 130.19 L561.78 129.92 L566.35 129.64 L570.97 129.35 L575.64 129.05 L580.37 128.74 L585.15 128.43 L589.98 128.12 L594.87 127.8 L599.8 127.49 L604.79 127.18 L609.83 126.88 L614.91 126.58 L620.05 126.29 L625.23 126.02 L630.46 125.76 L635.74 125.52 L641.07 125.3 L646.44 125.1 L651.86 124.94 L657.33 124.8" stroke="#2E88D0"/>
<path d="M418.8 129.6 L423.77 129.6 L424.27 129.73 L425.19 129.97 L426.38 130.24 L427.79 130.53 L429.39 130.8 L431.16 131.04 L433.08 131.24 L435.14 131.39 L437.34 131.49 L439.66 131.54 L442.1 131.54 L444.66 131.49 L447.33 131.39 L450.1 131.25 L452.97 131.08 L455.93 130.88 L458.99 130.66 L462.15 130.42 L465.39 130.16 L468.72 129.9 L472.13 129.64 L475.63 129.38 L479.2 129.12 L482.86 128.86 L486.59 128.62 L490.39 128.39 L494.28 128.17 L498.23 127.96 L502.25 127.77 L506.35 127.59 L510.51 127.42 L514.74 127.27 L519.04 127.13 L523.4 127 L527.83 126.88 L532.32 126.78 L536.87 126.68 L541.49 126.6 L546.17 126.52 L550.9 126.46 L555.7 126.4 L560.56 126.34 L565.47 126.29 L570.44 126.25 L575.47 126.21 L580.56 126.17 L585.7 126.14 L590.89 126.1 L596.14 126.07 L601.45 126.04 L606.8 126 L612.21 125.97 L617.67 125.93 L623.19 125.88 L628.75 125.84 L634.37 125.78 L640.03 125.73 L645.75 125.66 L651.52 125.59 L657.33 125.5" stroke="#A832B0"/>
<path d="M418.8 129.6 L430.25 129.6 L430.74 129.66 L431.64 129.77 L432.79 129.91 L434.16 130.07 L435.72 130.25 L437.44 130.44 L439.3 130.64 L441.31 130.84 L443.45 131.05 L445.71 131.26 L448.08 131.47 L450.57 131.68 L453.16 131.88 L455.85 132.07 L458.64 132.25 L461.52 132.43 L464.5 132.59 L467.57 132.74 L470.72 132.87 L473.96 132.99 L477.27 133.09 L480.67 133.18 L484.15 133.25 L487.7 133.29 L491.33 133.32 L495.03 133.33 L498.8 133.32 L502.65 133.29 L506.56 133.24 L510.54 133.16 L514.59 133.07 L518.7 132.96 L522.88 132.82 L527.12 132.67 L531.42 132.5 L535.79 132.31 L540.22 132.1 L544.71 131.88 L549.25 131.64 L553.86 131.38 L558.52 131.12 L563.24 130.84 L568.02 130.55 L572.86 130.25 L577.75 129.94 L582.69 129.64 L587.69 129.32 L592.74 129.01 L597.84 128.7 L603 128.39 L608.21 128.09 L613.47 127.8 L618.78 127.52 L624.14 127.26 L629.55 127.02 L635.01 126.8 L640.51 126.6 L646.07 126.43 L651.68 126.3 L657.33 126.2" stroke="#A832B0"/>
<path d="M418.8 129.6 L437.21 129.6 L437.68 129.59 L438.55 129.58 L439.67 129.57 L441 129.55 L442.51 129.54 L444.17 129.51 L445.98 129.49 L447.93 129.47 L450 129.44 L452.19 129.42 L454.49 129.39 L456.9 129.36 L459.41 129.33 L462.02 129.3 L464.73 129.27 L467.52 129.23 L470.41 129.2 L473.38 129.17 L476.44 129.13 L479.57 129.09 L482.79 129.05 L486.08 129.01 L489.45 128.97 L492.9 128.93 L496.41 128.89 L500 128.85 L503.66 128.81 L507.38 128.76 L511.18 128.72 L515.03 128.67 L518.96 128.62 L522.95 128.58 L527 128.53 L531.11 128.48 L535.28 128.43 L539.51 128.38 L543.81 128.33 L548.16 128.28 L552.56 128.23 L557.03 128.18 L561.55 128.12 L566.13 128.07 L570.76 128.01 L575.44 127.96 L580.18 127.9 L584.98 127.85 L589.82 127.79 L594.72 127.73 L599.66 127.68 L604.66 127.62 L609.71 127.56 L614.81 127.5 L619.96 127.44 L625.15 127.38 L630.4 127.32 L635.69 127.25 L641.03 127.19 L646.42 127.13 L651.85 127.06 L657.33 127" stroke="#3CCCD0"/>
<path d="M418.8 129.6 L434.65 129.6 L435.13 129.59 L436.01 129.58 L437.14 129.57 L438.48 129.55 L440.01 129.53 L441.69 129.51 L443.53 129.49 L445.49 129.47 L447.59 129.45 L449.8 129.43 L452.13 129.4 L454.57 129.38 L457.11 129.35 L459.75 129.33 L462.49 129.3 L465.32 129.28 L468.24 129.25 L471.24 129.22 L474.33 129.19 L477.51 129.16 L480.76 129.13 L484.09 129.1 L487.5 129.07 L490.99 129.04 L494.54 129.01 L498.17 128.98 L501.87 128.95 L505.64 128.91 L509.48 128.88 L513.38 128.85 L517.35 128.81 L521.38 128.78 L525.48 128.75 L529.64 128.71 L533.86 128.68 L538.14 128.64 L542.49 128.6 L546.89 128.57 L551.35 128.53 L555.86 128.5 L560.44 128.46 L565.07 128.42 L569.75 128.38 L574.49 128.34 L579.29 128.31 L584.13 128.27 L589.03 128.23 L593.99 128.19 L598.99 128.15 L604.05 128.11 L609.16 128.07 L614.31 128.03 L619.52 127.99 L624.78 127.95 L630.08 127.91 L635.44 127.87 L640.84 127.83 L646.29 127.78 L651.79 127.74 L657.33 127.7" stroke="#2E88D0"/>
<path d="M418.8 129.6 L439.2 129.6 L439.67 129.6 L440.52 129.59 L441.64 129.58 L442.95 129.58 L444.44 129.57 L446.09 129.56 L447.89 129.55 L449.82 129.54 L451.87 129.52 L454.04 129.51 L456.32 129.5 L458.71 129.49 L461.2 129.47 L463.78 129.46 L466.46 129.44 L469.23 129.43 L472.09 129.41 L475.04 129.4 L478.07 129.38 L481.18 129.36 L484.36 129.35 L487.63 129.33 L490.97 129.31 L494.38 129.3 L497.87 129.28 L501.42 129.26 L505.04 129.24 L508.74 129.22 L512.49 129.2 L516.32 129.18 L520.21 129.16 L524.16 129.14 L528.17 129.12 L532.25 129.1 L536.38 129.08 L540.58 129.06 L544.83 129.04 L549.14 129.02 L553.51 129 L557.93 128.98 L562.41 128.96 L566.95 128.93 L571.54 128.91 L576.18 128.89 L580.88 128.87 L585.63 128.84 L590.43 128.82 L595.28 128.8 L600.18 128.77 L605.14 128.75 L610.14 128.72 L615.19 128.7 L620.29 128.68 L625.44 128.65 L630.64 128.63 L635.89 128.6 L641.18 128.58 L646.52 128.55 L651.9 128.53 L657.33 128.5" stroke="#D9506A"/>
<path d="M418.8 129.6 L427.33 129.6 L427.82 129.89 L428.73 130.38 L429.9 130.97 L431.29 131.6 L432.86 132.21 L434.6 132.8 L436.5 133.33 L438.53 133.8 L440.69 134.19 L442.98 134.5 L445.38 134.74 L447.9 134.9 L450.53 134.98 L453.25 135.01 L456.08 134.97 L459 134.89 L462.02 134.76 L465.12 134.6 L468.32 134.42 L471.59 134.21 L474.95 133.99 L478.4 133.77 L481.92 133.54 L485.52 133.31 L489.19 133.08 L492.94 132.86 L496.76 132.64 L500.65 132.44 L504.62 132.24 L508.65 132.06 L512.75 131.88 L516.91 131.71 L521.15 131.56 L525.44 131.41 L529.8 131.27 L534.22 131.13 L538.71 131.01 L543.26 130.89 L547.86 130.77 L552.53 130.66 L557.25 130.55 L562.03 130.45 L566.87 130.34 L571.77 130.25 L576.72 130.15 L581.73 130.06 L586.79 129.97 L591.91 129.88 L597.07 129.8 L602.3 129.72 L607.57 129.64 L612.9 129.56 L618.28 129.5 L623.71 129.43 L629.19 129.38 L634.72 129.33 L640.3 129.28 L645.93 129.25 L651.6 129.22 L657.33 129.21" stroke="#A832B0"/>
<path d="M418.8 129.6 L421.16 129.6 L421.66 129.26 L422.59 128.68 L423.8 127.99 L425.22 127.26 L426.84 126.53 L428.62 125.85 L430.57 125.24 L432.65 124.71 L434.88 124.27 L437.23 123.92 L439.69 123.67 L442.28 123.52 L444.97 123.44 L447.77 123.45 L450.68 123.52 L453.68 123.65 L456.77 123.84 L459.96 124.06 L463.24 124.31 L466.61 124.58 L470.06 124.86 L473.59 125.16 L477.21 125.45 L480.9 125.75 L484.68 126.03 L488.53 126.31 L492.45 126.57 L496.45 126.82 L500.52 127.06 L504.66 127.28 L508.87 127.49 L513.14 127.68 L517.49 127.86 L521.9 128.03 L526.38 128.18 L530.92 128.32 L535.53 128.45 L540.19 128.58 L544.92 128.69 L549.71 128.8 L554.56 128.9 L559.47 128.99 L564.44 129.08 L569.47 129.17 L574.56 129.25 L579.7 129.32 L584.9 129.4 L590.15 129.47 L595.46 129.53 L600.82 129.6 L606.24 129.66 L611.71 129.71 L617.23 129.76 L622.81 129.81 L628.43 129.86 L634.11 129.9 L639.84 129.93 L645.62 129.96 L651.45 129.98 L657.33 129.99" stroke="#2E88D0"/>
<path d="M418.8 129.6 L420.31 129.6 L420.82 129.58 L421.75 129.54 L422.96 129.49 L424.39 129.44 L426.01 129.37 L427.8 129.3 L429.75 129.23 L431.85 129.16 L434.08 129.08 L436.43 129.01 L438.91 128.93 L441.51 128.85 L444.21 128.78 L447.02 128.71 L449.93 128.64 L452.95 128.58 L456.05 128.52 L459.25 128.46 L462.54 128.41 L465.92 128.37 L469.39 128.33 L472.93 128.29 L476.56 128.27 L480.27 128.25 L484.06 128.23 L487.92 128.22 L491.86 128.23 L495.87 128.23 L499.95 128.25 L504.11 128.27 L508.33 128.3 L512.63 128.34 L516.99 128.38 L521.41 128.43 L525.91 128.49 L530.47 128.55 L535.09 128.62 L539.77 128.7 L544.52 128.78 L549.33 128.86 L554.19 128.95 L559.12 129.05 L564.11 129.15 L569.16 129.25 L574.26 129.35 L579.42 129.46 L584.64 129.56 L589.91 129.67 L595.23 129.78 L600.62 129.88 L606.05 129.98 L611.54 130.08 L617.09 130.17 L622.68 130.26 L628.33 130.34 L634.03 130.41 L639.78 130.48 L645.58 130.53 L651.43 130.57 L657.33 130.6" stroke="#5FC24A"/>
<path d="M418.8 129.6 L431.71 129.6 L432.19 129.61 L433.08 129.63 L434.23 129.65 L435.59 129.67 L437.13 129.69 L438.84 129.72 L440.7 129.74 L442.69 129.77 L444.81 129.8 L447.06 129.83 L449.42 129.86 L451.89 129.9 L454.46 129.93 L457.14 129.96 L459.91 130 L462.78 130.03 L465.73 130.06 L468.78 130.1 L471.91 130.13 L475.13 130.17 L478.42 130.2 L481.8 130.24 L485.25 130.27 L488.78 130.3 L492.39 130.34 L496.07 130.37 L499.81 130.4 L503.63 130.44 L507.52 130.47 L511.48 130.5 L515.5 130.54 L519.58 130.57 L523.74 130.6 L527.95 130.63 L532.23 130.67 L536.57 130.7 L540.97 130.73 L545.43 130.76 L549.94 130.79 L554.52 130.82 L559.15 130.85 L563.85 130.88 L568.59 130.91 L573.4 130.94 L578.25 130.98 L583.17 131.01 L588.13 131.04 L593.15 131.07 L598.22 131.1 L603.34 131.13 L608.52 131.17 L613.75 131.2 L619.02 131.23 L624.35 131.27 L629.72 131.3 L635.15 131.34 L640.62 131.38 L646.14 131.42 L651.71 131.46 L657.33 131.5" stroke="#A832B0"/>
<path d="M418.8 129.6 L439.75 129.6 L440.22 129.68 L441.08 129.82 L442.18 130 L443.5 130.2 L444.99 130.42 L446.63 130.66 L448.42 130.92 L450.35 131.18 L452.39 131.45 L454.56 131.72 L456.83 131.99 L459.21 132.27 L461.7 132.54 L464.28 132.8 L466.95 133.06 L469.71 133.31 L472.57 133.56 L475.5 133.79 L478.52 134.01 L481.63 134.21 L484.8 134.41 L488.06 134.59 L491.39 134.75 L494.8 134.89 L498.27 135.02 L501.82 135.14 L505.43 135.23 L509.12 135.31 L512.86 135.37 L516.68 135.41 L520.56 135.43 L524.5 135.43 L528.5 135.42 L532.57 135.39 L536.69 135.34 L540.87 135.28 L545.12 135.2 L549.42 135.11 L553.77 135 L558.19 134.88 L562.66 134.75 L567.18 134.61 L571.76 134.46 L576.39 134.3 L581.07 134.14 L585.81 133.97 L590.6 133.8 L595.44 133.64 L600.33 133.47 L605.27 133.31 L610.26 133.16 L615.3 133.02 L620.39 132.89 L625.52 132.78 L630.71 132.68 L635.94 132.61 L641.22 132.56 L646.54 132.54 L651.91 132.55 L657.33 132.6" stroke="#111111"/>
<path d="M418.8 129.6 L434.86 129.6 L435.34 129.58 L436.22 129.53 L437.35 129.48 L438.69 129.41 L440.22 129.34 L441.9 129.27 L443.73 129.19 L445.69 129.11 L447.79 129.03 L450 128.95 L452.33 128.87 L454.76 128.79 L457.3 128.72 L459.94 128.66 L462.67 128.6 L465.5 128.54 L468.42 128.49 L471.42 128.46 L474.51 128.42 L477.68 128.4 L480.93 128.39 L484.26 128.39 L487.66 128.39 L491.14 128.41 L494.7 128.44 L498.32 128.48 L502.02 128.53 L505.78 128.59 L509.62 128.66 L513.52 128.75 L517.48 128.84 L521.51 128.95 L525.61 129.06 L529.76 129.19 L533.98 129.33 L538.26 129.48 L542.59 129.64 L546.99 129.8 L551.45 129.98 L555.96 130.16 L560.53 130.35 L565.15 130.55 L569.84 130.75 L574.57 130.96 L579.36 131.17 L584.2 131.39 L589.1 131.61 L594.05 131.83 L599.05 132.04 L604.1 132.26 L609.2 132.47 L614.36 132.68 L619.56 132.88 L624.81 133.08 L630.11 133.27 L635.46 133.44 L640.86 133.6 L646.3 133.75 L651.79 133.89 L657.33 134" stroke="#111111"/>
<path d="M418.8 129.6 L429.86 129.6 L430.35 129.63 L431.25 129.67 L432.41 129.72 L433.78 129.78 L435.34 129.83 L437.06 129.9 L438.93 129.96 L440.94 130.03 L443.08 130.09 L445.34 130.16 L447.72 130.24 L450.21 130.31 L452.8 130.38 L455.5 130.46 L458.3 130.54 L461.19 130.62 L464.17 130.7 L467.24 130.78 L470.4 130.87 L473.64 130.95 L476.96 131.04 L480.37 131.12 L483.85 131.21 L487.41 131.3 L491.04 131.39 L494.75 131.48 L498.53 131.57 L502.38 131.66 L506.3 131.76 L510.29 131.85 L514.34 131.95 L518.46 132.04 L522.65 132.14 L526.89 132.24 L531.21 132.34 L535.58 132.43 L540.02 132.53 L544.51 132.63 L549.07 132.74 L553.68 132.84 L558.35 132.94 L563.08 133.04 L567.87 133.15 L572.71 133.25 L577.61 133.36 L582.56 133.46 L587.57 133.57 L592.63 133.68 L597.74 133.78 L602.9 133.89 L608.12 134 L613.39 134.11 L618.71 134.22 L624.08 134.33 L629.5 134.44 L634.97 134.55 L640.49 134.66 L646.05 134.77 L651.67 134.89 L657.33 135" stroke="#3CCCD0"/>
<path d="M418.8 129.6 L426.55 129.6 L427.05 129.62 L427.96 129.66 L429.13 129.71 L430.52 129.76 L432.1 129.82 L433.85 129.89 L435.75 129.96 L437.79 130.03 L439.96 130.11 L442.25 130.19 L444.67 130.28 L447.19 130.37 L449.83 130.46 L452.56 130.55 L455.4 130.65 L458.33 130.75 L461.36 130.85 L464.47 130.96 L467.68 131.07 L470.96 131.18 L474.34 131.29 L477.79 131.4 L481.32 131.52 L484.93 131.64 L488.62 131.76 L492.38 131.88 L496.22 132.01 L500.12 132.13 L504.1 132.26 L508.14 132.39 L512.26 132.52 L516.44 132.66 L520.68 132.79 L525 132.93 L529.37 133.07 L533.81 133.21 L538.31 133.35 L542.87 133.49 L547.49 133.64 L552.17 133.78 L556.91 133.93 L561.71 134.08 L566.57 134.23 L571.48 134.38 L576.45 134.54 L581.47 134.69 L586.55 134.85 L591.68 135.01 L596.87 135.17 L602.11 135.33 L607.4 135.49 L612.75 135.65 L618.15 135.81 L623.59 135.98 L629.09 136.15 L634.64 136.32 L640.24 136.48 L645.89 136.66 L651.59 136.83 L657.33 137" stroke="#D9506A"/>
<path d="M418.8 129.6 L425.19 129.6 L425.69 129.81 L426.6 130.16 L427.78 130.57 L429.18 130.99 L430.77 131.39 L432.53 131.75 L434.44 132.05 L436.49 132.3 L438.67 132.47 L440.98 132.58 L443.41 132.62 L445.95 132.59 L448.6 132.52 L451.35 132.4 L454.21 132.23 L457.15 132.04 L460.2 131.83 L463.33 131.6 L466.55 131.37 L469.86 131.14 L473.26 130.92 L476.73 130.71 L480.28 130.53 L483.92 130.36 L487.62 130.23 L491.41 130.12 L495.26 130.05 L499.19 130.01 L503.19 130 L507.26 130.03 L511.4 130.09 L515.61 130.18 L519.88 130.31 L524.21 130.47 L528.61 130.66 L533.08 130.88 L537.6 131.12 L542.19 131.39 L546.84 131.69 L551.55 132.01 L556.32 132.35 L561.15 132.7 L566.03 133.07 L570.97 133.46 L575.97 133.85 L581.02 134.26 L586.13 134.67 L591.3 135.09 L596.51 135.5 L601.78 135.92 L607.11 136.34 L612.49 136.74 L617.91 137.14 L623.4 137.53 L628.93 137.9 L634.51 138.25 L640.14 138.58 L645.82 138.89 L651.55 139.16 L657.33 139.41" stroke="#A832B0"/>
<path d="M418.8 129.6 L423.57 129.6 L424.08 129.64 L425 129.7 L426.19 129.78 L427.6 129.87 L429.2 129.97 L430.97 130.07 L432.89 130.18 L434.95 130.29 L437.15 130.41 L439.48 130.54 L441.92 130.67 L444.48 130.81 L447.15 130.94 L449.92 131.09 L452.79 131.23 L455.76 131.38 L458.83 131.54 L461.98 131.69 L465.23 131.85 L468.56 132.02 L471.98 132.18 L475.47 132.35 L479.05 132.52 L482.71 132.7 L486.44 132.88 L490.25 133.06 L494.14 133.24 L498.09 133.42 L502.12 133.61 L506.22 133.8 L510.39 133.99 L514.62 134.19 L518.92 134.38 L523.29 134.58 L527.72 134.78 L532.21 134.98 L536.77 135.19 L541.39 135.4 L546.07 135.61 L550.82 135.82 L555.62 136.03 L560.48 136.24 L565.39 136.46 L570.37 136.68 L575.4 136.9 L580.49 137.12 L585.64 137.34 L590.84 137.57 L596.09 137.8 L601.4 138.02 L606.76 138.25 L612.17 138.49 L617.64 138.72 L623.16 138.96 L628.73 139.19 L634.35 139.43 L640.02 139.67 L645.74 139.91 L651.51 140.16 L657.33 140.4" stroke="#D9506A"/>
<path d="M418.8 129.6 L431.94 129.6 L432.42 129.64 L433.31 129.7 L434.46 129.79 L435.82 129.88 L437.36 129.99 L439.07 130.1 L440.92 130.23 L442.91 130.36 L445.03 130.5 L447.28 130.64 L449.63 130.8 L452.1 130.96 L454.67 131.12 L457.34 131.29 L460.11 131.47 L462.98 131.65 L465.93 131.84 L468.98 132.03 L472.1 132.23 L475.32 132.43 L478.61 132.63 L481.98 132.84 L485.43 133.06 L488.96 133.27 L492.56 133.5 L496.23 133.72 L499.98 133.95 L503.79 134.18 L507.68 134.42 L511.63 134.66 L515.65 134.91 L519.73 135.15 L523.87 135.4 L528.09 135.66 L532.36 135.92 L536.69 136.18 L541.09 136.44 L545.54 136.71 L550.06 136.98 L554.63 137.25 L559.26 137.53 L563.94 137.81 L568.69 138.09 L573.48 138.37 L578.34 138.66 L583.24 138.95 L588.2 139.25 L593.22 139.54 L598.28 139.84 L603.4 140.14 L608.57 140.45 L613.79 140.75 L619.06 141.06 L624.38 141.38 L629.75 141.69 L635.17 142.01 L640.64 142.33 L646.16 142.65 L651.72 142.97 L657.33 143.3" stroke="#3CCCD0"/>
<path d="M418.8 129.6 L422.98 129.6 L423.49 129.4 L424.41 129.01 L425.6 128.55 L427.02 128.05 L428.62 127.56 L430.39 127.1 L432.32 126.69 L434.39 126.34 L436.6 126.06 L438.93 125.86 L441.38 125.74 L443.94 125.69 L446.62 125.71 L449.4 125.8 L452.28 125.95 L455.25 126.15 L458.33 126.4 L461.49 126.69 L464.74 127.02 L468.08 127.37 L471.51 127.75 L475.01 128.15 L478.6 128.57 L482.27 129 L486.01 129.44 L489.83 129.89 L493.72 130.35 L497.69 130.82 L501.73 131.29 L505.84 131.76 L510.01 132.24 L514.26 132.73 L518.57 133.22 L522.95 133.71 L527.39 134.22 L531.9 134.73 L536.47 135.24 L541.1 135.76 L545.79 136.29 L550.55 136.82 L555.36 137.36 L560.23 137.91 L565.16 138.46 L570.15 139.01 L575.2 139.57 L580.3 140.12 L585.46 140.68 L590.67 141.24 L595.94 141.8 L601.26 142.35 L606.63 142.9 L612.06 143.44 L617.54 143.97 L623.07 144.49 L628.66 144.99 L634.29 145.48 L639.98 145.94 L645.71 146.39 L651.5 146.81 L657.33 147.19" stroke="#2E88D0"/>
<path d="M418.8 129.6 L419.42 129.6 L419.93 129.81 L420.87 130.1 L422.08 130.44 L423.52 130.82 L425.14 131.22 L426.94 131.65 L428.9 132.09 L431 132.54 L433.24 133.01 L435.61 133.48 L438.1 133.96 L440.7 134.45 L443.41 134.93 L446.24 135.43 L449.16 135.92 L452.18 136.41 L455.3 136.89 L458.51 137.38 L461.82 137.86 L465.21 138.33 L468.68 138.8 L472.24 139.26 L475.89 139.71 L479.61 140.16 L483.41 140.6 L487.29 141.02 L491.24 141.44 L495.27 141.85 L499.36 142.25 L503.53 142.64 L507.78 143.02 L512.08 143.39 L516.46 143.75 L520.91 144.1 L525.42 144.44 L529.99 144.77 L534.63 145.1 L539.33 145.41 L544.1 145.72 L548.92 146.02 L553.81 146.32 L558.76 146.61 L563.76 146.9 L568.83 147.18 L573.95 147.47 L579.13 147.75 L584.36 148.03 L589.66 148.31 L595 148.6 L600.41 148.89 L605.86 149.19 L611.37 149.5 L616.94 149.82 L622.55 150.15 L628.22 150.49 L633.94 150.85 L639.71 151.23 L645.54 151.63 L651.41 152.05 L657.33 152.5" stroke="#A832B0"/>
<path d="M418.8 129.6 L439.3 129.6 L439.76 129.71 L440.62 129.87 L441.73 130.07 L443.05 130.29 L444.54 130.52 L446.19 130.78 L447.98 131.05 L449.91 131.33 L451.96 131.62 L454.13 131.93 L456.41 132.24 L458.8 132.57 L461.29 132.9 L463.87 133.24 L466.55 133.6 L469.32 133.95 L472.18 134.32 L475.12 134.7 L478.15 135.08 L481.26 135.47 L484.44 135.86 L487.71 136.26 L491.04 136.67 L494.45 137.08 L497.94 137.5 L501.49 137.92 L505.11 138.35 L508.8 138.79 L512.56 139.23 L516.38 139.67 L520.27 140.12 L524.22 140.58 L528.23 141.04 L532.3 141.51 L536.44 141.97 L540.63 142.45 L544.88 142.93 L549.19 143.41 L553.56 143.9 L557.98 144.39 L562.46 144.88 L566.99 145.38 L571.58 145.89 L576.22 146.39 L580.91 146.9 L585.66 147.42 L590.46 147.94 L595.31 148.46 L600.21 148.99 L605.16 149.52 L610.16 150.05 L615.21 150.59 L620.31 151.13 L625.46 151.67 L630.65 152.22 L635.89 152.77 L641.18 153.32 L646.52 153.88 L651.9 154.44 L657.33 155" stroke="#5FC24A"/>
<path d="M418.8 129.6 L439.97 129.6 L440.44 129.71 L441.29 129.92 L442.4 130.18 L443.71 130.48 L445.2 130.82 L446.84 131.19 L448.63 131.59 L450.55 132 L452.6 132.44 L454.76 132.89 L457.03 133.36 L459.41 133.84 L461.89 134.32 L464.47 134.82 L467.14 135.32 L469.9 135.82 L472.75 136.32 L475.69 136.83 L478.7 137.34 L481.8 137.84 L484.98 138.35 L488.23 138.85 L491.56 139.34 L494.96 139.83 L498.43 140.32 L501.97 140.8 L505.59 141.27 L509.26 141.74 L513.01 142.2 L516.82 142.65 L520.69 143.1 L524.63 143.54 L528.63 143.97 L532.69 144.4 L536.81 144.82 L540.99 145.23 L545.23 145.64 L549.53 146.04 L553.88 146.43 L558.29 146.83 L562.75 147.22 L567.27 147.61 L571.84 148 L576.47 148.39 L581.15 148.78 L585.88 149.17 L590.67 149.57 L595.5 149.97 L600.39 150.38 L605.32 150.8 L610.31 151.24 L615.34 151.68 L620.42 152.14 L625.56 152.62 L630.74 153.12 L635.96 153.64 L641.23 154.19 L646.55 154.76 L651.92 155.36 L657.33 156" stroke="#2E88D0"/>
<path d="M418.8 129.6 L423.66 129.6 L424.16 129.73 L425.08 129.91 L426.27 130.11 L427.68 130.32 L429.28 130.55 L431.05 130.78 L432.97 131.02 L435.04 131.28 L437.24 131.54 L439.56 131.82 L442 132.1 L444.56 132.39 L447.23 132.69 L450 133 L452.87 133.32 L455.84 133.65 L458.9 133.99 L462.06 134.34 L465.3 134.7 L468.63 135.08 L472.05 135.46 L475.54 135.85 L479.12 136.26 L482.78 136.67 L486.51 137.1 L490.32 137.54 L494.2 137.98 L498.15 138.44 L502.18 138.91 L506.28 139.39 L510.44 139.89 L514.67 140.39 L518.97 140.9 L523.34 141.42 L527.77 141.96 L532.26 142.5 L536.82 143.05 L541.44 143.61 L546.11 144.18 L550.85 144.75 L555.65 145.34 L560.51 145.93 L565.43 146.52 L570.4 147.13 L575.43 147.73 L580.52 148.35 L585.66 148.96 L590.86 149.58 L596.11 150.2 L601.42 150.83 L606.78 151.45 L612.19 152.07 L617.66 152.69 L623.17 153.31 L628.74 153.92 L634.36 154.53 L640.03 155.14 L645.75 155.73 L651.51 156.32 L657.33 156.9" stroke="#3CCCD0"/>
<path d="M418.8 129.6 L436.81 129.6 L437.28 129.72 L438.15 129.89 L439.27 130.11 L440.6 130.34 L442.11 130.6 L443.78 130.88 L445.6 131.18 L447.54 131.49 L449.62 131.81 L451.81 132.15 L454.12 132.5 L456.53 132.85 L459.05 133.22 L461.66 133.6 L464.37 133.99 L467.18 134.39 L470.07 134.8 L473.04 135.21 L476.11 135.63 L479.25 136.07 L482.47 136.5 L485.77 136.95 L489.15 137.4 L492.6 137.86 L496.12 138.33 L499.71 138.8 L503.38 139.28 L507.11 139.76 L510.91 140.25 L514.77 140.75 L518.71 141.25 L522.7 141.76 L526.76 142.27 L530.88 142.79 L535.06 143.32 L539.3 143.84 L543.6 144.38 L547.96 144.92 L552.37 145.46 L556.85 146.01 L561.38 146.57 L565.96 147.12 L570.6 147.69 L575.29 148.25 L580.04 148.83 L584.84 149.4 L589.7 149.98 L594.6 150.57 L599.56 151.16 L604.57 151.75 L609.62 152.35 L614.73 152.95 L619.89 153.55 L625.09 154.16 L630.35 154.78 L635.65 155.39 L641 156.01 L646.4 156.64 L651.84 157.27 L657.33 157.9" stroke="#111111"/>
<path d="M418.8 129.6 L435.93 129.6 L436.41 129.79 L437.28 130.05 L438.41 130.34 L439.75 130.65 L441.26 130.98 L442.94 131.32 L444.76 131.68 L446.71 132.05 L448.8 132.43 L451 132.82 L453.31 133.21 L455.74 133.62 L458.26 134.04 L460.89 134.46 L463.61 134.89 L466.42 135.32 L469.32 135.76 L472.31 136.21 L475.39 136.66 L478.54 137.12 L481.78 137.58 L485.09 138.05 L488.48 138.52 L491.94 139 L495.48 139.48 L499.09 139.97 L502.77 140.46 L506.51 140.96 L510.33 141.46 L514.21 141.96 L518.16 142.47 L522.17 142.98 L526.24 143.49 L530.38 144.01 L534.57 144.53 L538.83 145.05 L543.15 145.58 L547.52 146.11 L551.96 146.65 L556.45 147.18 L560.99 147.72 L565.6 148.27 L570.26 148.81 L574.97 149.36 L579.74 149.91 L584.56 150.47 L589.43 151.03 L594.35 151.59 L599.33 152.15 L604.36 152.71 L609.43 153.28 L614.56 153.85 L619.74 154.42 L624.97 155 L630.24 155.58 L635.56 156.16 L640.94 156.74 L646.35 157.32 L651.82 157.91 L657.33 158.5" stroke="#5FC24A"/>
<path d="M418.8 129.6 L438.29 129.6 L438.77 129.68 L439.63 129.83 L440.74 130.01 L442.06 130.21 L443.56 130.44 L445.22 130.7 L447.02 130.97 L448.96 131.25 L451.02 131.56 L453.2 131.88 L455.49 132.21 L457.89 132.56 L460.38 132.92 L462.98 133.29 L465.67 133.68 L468.46 134.07 L471.33 134.48 L474.29 134.9 L477.33 135.32 L480.45 135.76 L483.65 136.21 L486.93 136.66 L490.28 137.13 L493.71 137.6 L497.21 138.09 L500.78 138.58 L504.41 139.08 L508.12 139.58 L511.9 140.1 L515.74 140.62 L519.64 141.15 L523.61 141.69 L527.64 142.24 L531.73 142.79 L535.88 143.35 L540.09 143.92 L544.36 144.49 L548.69 145.07 L553.08 145.66 L557.52 146.26 L562.02 146.86 L566.58 147.46 L571.18 148.08 L575.85 148.7 L580.56 149.32 L585.33 149.95 L590.15 150.59 L595.02 151.24 L599.95 151.89 L604.92 152.54 L609.94 153.2 L615.02 153.87 L620.14 154.54 L625.31 155.22 L630.53 155.9 L635.8 156.59 L641.11 157.29 L646.47 157.99 L651.88 158.69 L657.33 159.4" stroke="#2E88D0"/>
<path d="M418.8 129.6 L429.04 129.6 L429.53 129.5 L430.43 129.28 L431.6 129 L432.97 128.72 L434.53 128.48 L436.26 128.28 L438.14 128.16 L440.16 128.12 L442.31 128.18 L444.58 128.32 L446.96 128.56 L449.46 128.88 L452.07 129.29 L454.77 129.77 L457.58 130.31 L460.48 130.91 L463.47 131.55 L466.55 132.24 L469.72 132.95 L472.98 133.69 L476.31 134.44 L479.73 135.2 L483.22 135.97 L486.8 136.74 L490.44 137.5 L494.16 138.26 L497.96 139.01 L501.82 139.75 L505.75 140.48 L509.76 141.2 L513.82 141.91 L517.96 142.61 L522.16 143.29 L526.42 143.97 L530.75 144.64 L535.14 145.3 L539.59 145.95 L544.1 146.6 L548.68 147.24 L553.31 147.88 L558 148.51 L562.74 149.14 L567.55 149.77 L572.41 150.39 L577.32 151.02 L582.29 151.64 L587.31 152.26 L592.39 152.89 L597.52 153.51 L602.71 154.14 L607.94 154.76 L613.23 155.39 L618.57 156.02 L623.96 156.65 L629.4 157.29 L634.89 157.93 L640.43 158.56 L646.01 159.2 L651.65 159.85 L657.33 160.49" stroke="#3CCCD0"/>
<path d="M418.8 129.6 L434.73 129.6 L435.21 129.72 L436.08 129.84 L437.22 129.95 L438.56 130.04 L440.08 130.14 L441.77 130.23 L443.6 130.32 L445.57 130.41 L447.66 130.51 L449.87 130.62 L452.2 130.74 L454.64 130.86 L457.18 131.01 L459.82 131.16 L462.55 131.34 L465.38 131.53 L468.3 131.75 L471.31 131.99 L474.4 132.25 L477.57 132.53 L480.82 132.85 L484.15 133.19 L487.56 133.56 L491.04 133.95 L494.6 134.38 L498.23 134.83 L501.93 135.32 L505.69 135.84 L509.53 136.38 L513.43 136.96 L517.4 137.57 L521.43 138.21 L525.53 138.87 L529.68 139.57 L533.9 140.29 L538.18 141.04 L542.53 141.82 L546.92 142.62 L551.38 143.44 L555.9 144.29 L560.47 145.15 L565.1 146.04 L569.78 146.94 L574.52 147.85 L579.31 148.77 L584.16 149.7 L589.06 150.64 L594.01 151.58 L599.01 152.53 L604.07 153.46 L609.17 154.39 L614.33 155.31 L619.53 156.22 L624.79 157.11 L630.09 157.97 L635.45 158.81 L640.85 159.62 L646.29 160.39 L651.79 161.12 L657.33 161.8" stroke="#111111"/>
<path d="M418.8 129.6 L419.39 129.6 L419.9 129.7 L420.84 129.86 L422.05 130.04 L423.49 130.25 L425.11 130.48 L426.91 130.73 L428.87 130.99 L430.97 131.28 L433.21 131.58 L435.58 131.89 L438.07 132.22 L440.67 132.57 L443.39 132.94 L446.21 133.32 L449.13 133.71 L452.16 134.12 L455.28 134.55 L458.49 135 L461.79 135.46 L465.18 135.94 L468.66 136.44 L472.22 136.95 L475.86 137.48 L479.59 138.03 L483.39 138.59 L487.26 139.17 L491.22 139.77 L495.24 140.38 L499.34 141.02 L503.52 141.66 L507.76 142.33 L512.07 143.01 L516.44 143.7 L520.89 144.42 L525.4 145.14 L529.98 145.89 L534.61 146.64 L539.32 147.41 L544.08 148.19 L548.91 148.99 L553.8 149.8 L558.74 150.62 L563.75 151.45 L568.81 152.28 L573.94 153.13 L579.12 153.99 L584.35 154.85 L589.65 155.72 L594.99 156.6 L600.4 157.48 L605.86 158.36 L611.37 159.24 L616.93 160.12 L622.55 161.01 L628.22 161.89 L633.94 162.76 L639.71 163.63 L645.53 164.5 L651.41 165.35 L657.33 166.2" stroke="#D9506A"/>
<path d="M418.8 129.6 L431.57 129.6 L432.05 129.76 L432.94 130.02 L434.09 130.32 L435.45 130.66 L437 131.02 L438.71 131.42 L440.56 131.84 L442.56 132.28 L444.68 132.73 L446.93 133.21 L449.29 133.7 L451.76 134.21 L454.34 134.73 L457.01 135.27 L459.79 135.82 L462.66 136.38 L465.62 136.96 L468.66 137.55 L471.8 138.15 L475.02 138.75 L478.32 139.37 L481.69 140 L485.15 140.64 L488.68 141.29 L492.29 141.95 L495.97 142.62 L499.72 143.3 L503.54 143.98 L507.43 144.67 L511.39 145.38 L515.41 146.09 L519.5 146.8 L523.65 147.53 L527.87 148.26 L532.15 149 L536.49 149.75 L540.9 150.5 L545.36 151.27 L549.88 152.04 L554.46 152.81 L559.09 153.59 L563.79 154.38 L568.54 155.18 L573.34 155.98 L578.21 156.79 L583.12 157.6 L588.09 158.42 L593.11 159.25 L598.19 160.08 L603.31 160.92 L608.49 161.76 L613.72 162.61 L619 163.46 L624.33 164.32 L629.71 165.19 L635.14 166.06 L640.61 166.94 L646.14 167.82 L651.71 168.71 L657.33 169.6" stroke="#5FC24A"/>
<path d="M418.8 129.6 L422.84 129.6 L423.35 129.78 L424.27 130.06 L425.46 130.39 L426.88 130.78 L428.48 131.19 L430.26 131.64 L432.19 132.12 L434.26 132.63 L436.46 133.15 L438.8 133.7 L441.25 134.27 L443.81 134.86 L446.49 135.47 L449.27 136.09 L452.15 136.73 L455.13 137.39 L458.21 138.06 L461.37 138.75 L464.63 139.45 L467.97 140.16 L471.4 140.89 L474.9 141.63 L478.49 142.38 L482.16 143.15 L485.91 143.92 L489.73 144.71 L493.63 145.51 L497.6 146.32 L501.64 147.14 L505.75 147.97 L509.93 148.81 L514.17 149.66 L518.49 150.52 L522.87 151.39 L527.31 152.27 L531.82 153.16 L536.39 154.06 L541.03 154.96 L545.72 155.88 L550.48 156.8 L555.3 157.73 L560.17 158.67 L565.11 159.62 L570.1 160.58 L575.15 161.54 L580.25 162.52 L585.41 163.5 L590.63 164.48 L595.9 165.48 L601.22 166.48 L606.6 167.49 L612.03 168.51 L617.52 169.53 L623.05 170.57 L628.64 171.6 L634.28 172.65 L639.97 173.7 L645.7 174.76 L651.49 175.83 L657.33 176.9" stroke="#A832B0"/>
<path d="M418.8 129.6 L428.22 129.6 L428.71 129.95 L429.61 130.43 L430.78 130.97 L432.16 131.55 L433.73 132.16 L435.46 132.81 L437.35 133.48 L439.37 134.17 L441.53 134.89 L443.81 135.62 L446.2 136.37 L448.71 137.13 L451.33 137.91 L454.04 138.7 L456.86 139.51 L459.77 140.33 L462.77 141.16 L465.87 142.01 L469.05 142.86 L472.31 143.72 L475.66 144.6 L479.09 145.48 L482.6 146.37 L486.18 147.28 L489.84 148.19 L493.57 149.11 L497.38 150.03 L501.26 150.97 L505.21 151.91 L509.22 152.86 L513.31 153.82 L517.46 154.79 L521.67 155.76 L525.95 156.74 L530.3 157.72 L534.7 158.72 L539.17 159.71 L543.7 160.72 L548.28 161.73 L552.93 162.75 L557.64 163.77 L562.4 164.8 L567.22 165.83 L572.1 166.87 L577.03 167.92 L582.02 168.97 L587.06 170.03 L592.16 171.09 L597.31 172.15 L602.51 173.22 L607.77 174.3 L613.07 175.38 L618.43 176.47 L623.84 177.56 L629.3 178.65 L634.81 179.75 L640.36 180.86 L645.97 181.97 L651.63 183.08 L657.33 184.2" stroke="#D9506A"/>
<path d="M418.8 129.6 L430.67 129.6 L431.16 129.92 L432.05 130.36 L433.21 130.87 L434.57 131.42 L436.13 132.01 L437.84 132.63 L439.7 133.28 L441.71 133.96 L443.84 134.65 L446.09 135.37 L448.46 136.1 L450.95 136.86 L453.53 137.63 L456.22 138.41 L459 139.21 L461.88 140.02 L464.86 140.85 L467.92 141.69 L471.06 142.54 L474.29 143.4 L477.61 144.28 L481 145.16 L484.47 146.06 L488.01 146.96 L491.63 147.88 L495.33 148.8 L499.09 149.73 L502.93 150.68 L506.84 151.63 L510.81 152.59 L514.85 153.56 L518.95 154.53 L523.12 155.52 L527.36 156.51 L531.66 157.51 L536.01 158.52 L540.43 159.53 L544.91 160.55 L549.45 161.58 L554.05 162.62 L558.71 163.66 L563.42 164.71 L568.19 165.76 L573.01 166.83 L577.89 167.89 L582.83 168.97 L587.81 170.05 L592.86 171.13 L597.95 172.23 L603.1 173.32 L608.3 174.43 L613.55 175.54 L618.85 176.65 L624.2 177.77 L629.6 178.9 L635.05 180.03 L640.55 181.16 L646.09 182.3 L651.69 183.45 L657.33 184.6" stroke="#5FC24A"/>
<path d="M418.8 129.6 L421.64 129.6 L422.14 129.94 L423.07 130.42 L424.27 130.97 L425.69 131.57 L427.31 132.21 L429.09 132.89 L431.03 133.6 L433.11 134.33 L435.33 135.09 L437.67 135.87 L440.14 136.68 L442.72 137.5 L445.41 138.34 L448.2 139.2 L451.1 140.07 L454.09 140.96 L457.18 141.87 L460.36 142.79 L463.64 143.72 L466.99 144.67 L470.44 145.63 L473.97 146.6 L477.57 147.58 L481.26 148.57 L485.03 149.58 L488.87 150.59 L492.78 151.62 L496.77 152.65 L500.83 153.7 L504.97 154.75 L509.17 155.82 L513.44 156.89 L517.77 157.97 L522.18 159.06 L526.64 160.16 L531.18 161.27 L535.77 162.39 L540.43 163.51 L545.15 164.64 L549.93 165.78 L554.77 166.93 L559.67 168.08 L564.63 169.24 L569.65 170.41 L574.72 171.59 L579.86 172.77 L585.04 173.96 L590.29 175.16 L595.58 176.36 L600.94 177.57 L606.34 178.79 L611.8 180.01 L617.31 181.24 L622.88 182.47 L628.49 183.71 L634.16 184.96 L639.88 186.21 L645.64 187.47 L651.46 188.73 L657.33 190" stroke="#111111"/>
<path d="M418.8 129.6 L424.44 129.6 L424.95 129.83 L425.86 130.2 L427.05 130.65 L428.45 131.16 L430.05 131.71 L431.81 132.3 L433.73 132.94 L435.78 133.6 L437.97 134.3 L440.29 135.02 L442.73 135.78 L445.27 136.55 L447.93 137.36 L450.69 138.18 L453.56 139.03 L456.51 139.89 L459.57 140.78 L462.71 141.69 L465.94 142.61 L469.26 143.55 L472.67 144.51 L476.15 145.49 L479.72 146.48 L483.36 147.49 L487.08 148.52 L490.88 149.56 L494.75 150.61 L498.69 151.68 L502.7 152.76 L506.78 153.85 L510.93 154.96 L515.15 156.09 L519.44 157.22 L523.79 158.37 L528.2 159.53 L532.68 160.7 L537.22 161.88 L541.82 163.08 L546.49 164.28 L551.21 165.5 L556 166.73 L560.84 167.97 L565.74 169.22 L570.69 170.48 L575.71 171.76 L580.78 173.04 L585.9 174.33 L591.08 175.63 L596.32 176.95 L601.61 178.27 L606.95 179.6 L612.34 180.94 L617.79 182.29 L623.29 183.65 L628.84 185.02 L634.43 186.4 L640.08 187.79 L645.78 189.18 L651.53 190.59 L657.33 192" stroke="#2E88D0"/>
<path d="M418.8 129.6 L428.35 129.6 L428.84 129.75 L429.74 130.02 L430.91 130.37 L432.29 130.78 L433.86 131.23 L435.59 131.73 L437.47 132.28 L439.5 132.86 L441.65 133.47 L443.93 134.12 L446.32 134.8 L448.83 135.51 L451.44 136.25 L454.16 137.01 L456.97 137.8 L459.88 138.62 L462.88 139.46 L465.97 140.32 L469.15 141.21 L472.42 142.12 L475.76 143.05 L479.19 144 L482.69 144.97 L486.28 145.97 L489.93 146.98 L493.67 148.01 L497.47 149.06 L501.35 150.13 L505.29 151.21 L509.31 152.32 L513.39 153.44 L517.53 154.58 L521.75 155.73 L526.03 156.9 L530.37 158.09 L534.77 159.3 L539.23 160.52 L543.76 161.75 L548.35 163 L552.99 164.27 L557.69 165.55 L562.45 166.84 L567.27 168.15 L572.15 169.48 L577.08 170.82 L582.06 172.17 L587.1 173.54 L592.19 174.92 L597.34 176.31 L602.54 177.72 L607.79 179.14 L613.1 180.57 L618.45 182.02 L623.86 183.48 L629.31 184.95 L634.82 186.44 L640.37 187.93 L645.98 189.44 L651.63 190.97 L657.33 192.5" stroke="#3CCCD0"/>
<path d="M418.8 129.6 L426.24 129.6 L426.74 129.8 L427.65 130.14 L428.83 130.56 L430.22 131.06 L431.8 131.62 L433.55 132.23 L435.45 132.89 L437.49 133.59 L439.67 134.33 L441.97 135.11 L444.38 135.93 L446.91 136.78 L449.55 137.66 L452.29 138.57 L455.13 139.51 L458.07 140.48 L461.1 141.48 L464.21 142.51 L467.42 143.56 L470.72 144.64 L474.09 145.74 L477.55 146.86 L481.09 148.01 L484.7 149.18 L488.4 150.37 L492.16 151.58 L496 152.82 L499.91 154.08 L503.89 155.35 L507.95 156.65 L512.06 157.96 L516.25 159.3 L520.5 160.65 L524.82 162.02 L529.2 163.41 L533.64 164.82 L538.15 166.25 L542.72 167.69 L547.34 169.15 L552.03 170.63 L556.78 172.12 L561.58 173.63 L566.44 175.15 L571.36 176.7 L576.34 178.25 L581.37 179.83 L586.46 181.42 L591.6 183.02 L596.79 184.64 L602.04 186.27 L607.34 187.92 L612.69 189.59 L618.09 191.26 L623.55 192.96 L629.06 194.66 L634.61 196.38 L640.22 198.12 L645.87 199.86 L651.58 201.63 L657.33 203.4" stroke="#D9506A"/>
<path d="M418.8 129.6 L422.8 129.6 L423.31 129.95 L424.23 130.5 L425.42 131.16 L426.84 131.9 L428.44 132.7 L430.22 133.57 L432.15 134.49 L434.22 135.46 L436.43 136.48 L438.76 137.53 L441.21 138.62 L443.78 139.75 L446.46 140.91 L449.24 142.1 L452.12 143.33 L455.1 144.58 L458.17 145.86 L461.34 147.17 L464.6 148.5 L467.94 149.86 L471.36 151.24 L474.87 152.65 L478.46 154.08 L482.13 155.53 L485.88 157 L489.7 158.5 L493.6 160.01 L497.57 161.55 L501.61 163.1 L505.72 164.67 L509.9 166.26 L514.15 167.87 L518.46 169.5 L522.85 171.15 L527.29 172.81 L531.8 174.49 L536.37 176.18 L541.01 177.89 L545.71 179.62 L550.46 181.36 L555.28 183.12 L560.16 184.9 L565.09 186.69 L570.08 188.49 L575.13 190.31 L580.24 192.14 L585.4 193.99 L590.62 195.85 L595.89 197.72 L601.21 199.61 L606.59 201.51 L612.03 203.43 L617.51 205.35 L623.05 207.29 L628.63 209.25 L634.27 211.21 L639.96 213.19 L645.7 215.18 L651.49 217.19 L657.33 219.2" stroke="#111111"/>
<path d="M418.8 129.6 L427.11 129.6 L427.6 129.87 L428.51 130.34 L429.68 130.92 L431.07 131.59 L432.65 132.34 L434.39 133.16 L436.28 134.04 L438.32 134.98 L440.48 135.97 L442.77 137.01 L445.18 138.09 L447.7 139.22 L450.33 140.39 L453.06 141.59 L455.89 142.84 L458.81 144.12 L461.83 145.44 L464.94 146.79 L468.13 148.18 L471.42 149.59 L474.78 151.04 L478.22 152.52 L481.75 154.03 L485.35 155.56 L489.03 157.13 L492.78 158.72 L496.61 160.34 L500.5 161.98 L504.47 163.65 L508.5 165.34 L512.61 167.06 L516.78 168.81 L521.01 170.57 L525.31 172.37 L529.68 174.18 L534.11 176.02 L538.6 177.87 L543.15 179.75 L547.76 181.66 L552.43 183.58 L557.15 185.52 L561.94 187.49 L566.79 189.47 L571.69 191.48 L576.64 193.5 L581.65 195.55 L586.72 197.61 L591.84 199.69 L597.02 201.79 L602.24 203.91 L607.52 206.05 L612.86 208.21 L618.24 210.39 L623.68 212.58 L629.16 214.79 L634.7 217.02 L640.28 219.26 L645.92 221.52 L651.6 223.8 L657.33 226.1" stroke="#5FC24A"/>
<path d="M418.8 129.6 L432.07 129.6 L432.55 129.52 L433.44 129.39 L434.58 129.24 L435.94 129.07 L437.48 128.88 L439.19 128.68 L441.04 128.48 L443.03 128.26 L445.15 128.04 L447.39 127.82 L449.75 127.6 L452.21 127.37 L454.78 127.14 L457.46 126.92 L460.22 126.7 L463.09 126.47 L466.04 126.26 L469.08 126.04 L472.21 125.84 L475.42 125.63 L478.71 125.44 L482.08 125.25 L485.53 125.06 L489.05 124.89 L492.65 124.72 L496.32 124.56 L500.07 124.41 L503.88 124.26 L507.76 124.13 L511.71 124 L515.72 123.89 L519.8 123.78 L523.95 123.68 L528.16 123.58 L532.43 123.5 L536.76 123.42 L541.15 123.35 L545.6 123.29 L550.12 123.23 L554.68 123.18 L559.31 123.14 L564 123.1 L568.73 123.06 L573.53 123.03 L578.38 122.99 L583.28 122.96 L588.24 122.93 L593.25 122.9 L598.32 122.87 L603.43 122.83 L608.6 122.79 L613.81 122.75 L619.08 122.7 L624.4 122.64 L629.77 122.56 L635.18 122.48 L640.65 122.39 L646.16 122.27 L651.72 122.15 L657.33 122" stroke="#5FC24A"/>
<path d="M418.8 129.6 L430.17 129.6 L430.66 129.57 L431.55 129.53 L432.71 129.48 L434.08 129.43 L435.64 129.37 L437.36 129.3 L439.22 129.23 L441.23 129.16 L443.37 129.09 L445.63 129.01 L448 128.93 L450.49 128.84 L453.08 128.76 L455.78 128.67 L458.57 128.58 L461.45 128.48 L464.43 128.39 L467.5 128.29 L470.65 128.19 L473.89 128.09 L477.21 127.99 L480.61 127.89 L484.09 127.78 L487.64 127.68 L491.27 127.57 L494.97 127.46 L498.74 127.34 L502.59 127.23 L506.5 127.12 L510.48 127 L514.53 126.88 L518.65 126.77 L522.83 126.65 L527.07 126.53 L531.38 126.4 L535.75 126.28 L540.18 126.15 L544.66 126.03 L549.21 125.9 L553.82 125.77 L558.49 125.64 L563.21 125.51 L567.99 125.38 L572.83 125.25 L577.72 125.12 L582.66 124.98 L587.66 124.85 L592.71 124.71 L597.82 124.57 L602.98 124.44 L608.19 124.3 L613.45 124.16 L618.76 124.01 L624.12 123.87 L629.54 123.73 L635 123.58 L640.51 123.44 L646.07 123.29 L651.68 123.15 L657.33 123" stroke="#3CCCD0"/>
<path d="M418.8 129.6 L437.73 129.6 L438.2 129.65 L439.06 129.76 L440.18 129.9 L441.51 130.08 L443.01 130.27 L444.67 130.48 L446.48 130.7 L448.42 130.93 L450.48 131.16 L452.67 131.39 L454.96 131.62 L457.37 131.85 L459.87 132.08 L462.48 132.29 L465.18 132.49 L467.97 132.68 L470.85 132.86 L473.81 133.02 L476.86 133.16 L479.99 133.29 L483.2 133.39 L486.48 133.48 L489.85 133.54 L493.28 133.58 L496.79 133.6 L500.37 133.59 L504.02 133.56 L507.73 133.5 L511.52 133.42 L515.37 133.31 L519.28 133.18 L523.26 133.03 L527.3 132.85 L531.4 132.64 L535.57 132.42 L539.79 132.17 L544.07 131.9 L548.41 131.61 L552.81 131.3 L557.26 130.98 L561.77 130.64 L566.34 130.28 L570.96 129.91 L575.64 129.53 L580.36 129.15 L585.14 128.76 L589.98 128.36 L594.86 127.97 L599.8 127.58 L604.78 127.19 L609.82 126.81 L614.91 126.44 L620.04 126.09 L625.23 125.76 L630.46 125.45 L635.74 125.17 L641.07 124.92 L646.44 124.7 L651.86 124.53 L657.33 124.4" stroke="#D9506A"/>
<path d="M418.8 129.6 L420.89 129.6 L421.4 129.18 L422.33 128.45 L423.54 127.58 L424.96 126.65 L426.58 125.7 L428.37 124.78 L430.32 123.91 L432.41 123.11 L434.63 122.4 L436.98 121.77 L439.45 121.25 L442.04 120.81 L444.74 120.46 L447.54 120.19 L450.45 119.99 L453.45 119.86 L456.55 119.79 L459.74 119.76 L463.03 119.78 L466.4 119.82 L469.85 119.9 L473.39 119.99 L477.01 120.1 L480.71 120.22 L484.49 120.35 L488.34 120.48 L492.27 120.62 L496.27 120.77 L500.34 120.91 L504.49 121.05 L508.7 121.2 L512.98 121.35 L517.33 121.5 L521.75 121.65 L526.23 121.81 L530.78 121.97 L535.39 122.13 L540.06 122.3 L544.8 122.47 L549.59 122.64 L554.45 122.82 L559.37 123 L564.34 123.18 L569.37 123.37 L574.46 123.55 L579.61 123.73 L584.82 123.91 L590.07 124.09 L595.39 124.26 L600.76 124.43 L606.18 124.58 L611.66 124.72 L617.19 124.84 L622.77 124.95 L628.4 125.03 L634.09 125.09 L639.82 125.11 L645.61 125.11 L651.44 125.07 L657.33 124.99" stroke="#5FC24A"/>
<path d="M418.8 129.6 L429.63 129.6 L430.12 129.59 L431.02 129.56 L432.18 129.54 L433.55 129.51 L435.11 129.48 L436.83 129.44 L438.71 129.4 L440.72 129.36 L442.86 129.32 L445.13 129.28 L447.51 129.24 L450 129.19 L452.6 129.15 L455.3 129.1 L458.1 129.05 L460.99 129 L463.97 128.95 L467.05 128.89 L470.21 128.84 L473.45 128.79 L476.78 128.73 L480.19 128.67 L483.67 128.62 L487.24 128.56 L490.87 128.5 L494.58 128.44 L498.37 128.38 L502.22 128.32 L506.14 128.25 L510.14 128.19 L514.19 128.13 L518.32 128.06 L522.51 128 L526.76 127.93 L531.08 127.86 L535.46 127.8 L539.9 127.73 L544.4 127.66 L548.96 127.59 L553.58 127.52 L558.25 127.45 L562.99 127.38 L567.78 127.31 L572.62 127.23 L577.53 127.16 L582.48 127.09 L587.5 127.01 L592.56 126.94 L597.68 126.86 L602.85 126.79 L608.07 126.71 L613.34 126.63 L618.67 126.56 L624.04 126.48 L629.47 126.4 L634.94 126.32 L640.47 126.24 L646.04 126.16 L651.66 126.08 L657.33 126" stroke="#111111"/>
<path d="M418.8 129.6 L428.49 129.6 L428.99 129.51 L429.89 129.34 L431.05 129.13 L432.43 128.88 L434 128.61 L435.73 128.33 L437.61 128.02 L439.63 127.71 L441.79 127.39 L444.06 127.06 L446.46 126.73 L448.96 126.41 L451.57 126.08 L454.29 125.77 L457.1 125.46 L460.01 125.16 L463.01 124.87 L466.09 124.6 L469.27 124.34 L472.53 124.1 L475.88 123.87 L479.3 123.67 L482.8 123.48 L486.38 123.31 L490.04 123.17 L493.77 123.04 L497.57 122.94 L501.44 122.86 L505.39 122.8 L509.4 122.77 L513.48 122.76 L517.62 122.77 L521.83 122.8 L526.11 122.86 L530.45 122.94 L534.85 123.03 L539.31 123.15 L543.83 123.28 L548.41 123.43 L553.06 123.6 L557.76 123.78 L562.51 123.97 L567.33 124.18 L572.2 124.39 L577.13 124.61 L582.11 124.83 L587.15 125.06 L592.24 125.28 L597.38 125.51 L602.58 125.72 L607.82 125.93 L613.12 126.13 L618.48 126.31 L623.88 126.47 L629.33 126.6 L634.83 126.71 L640.38 126.79 L645.98 126.84 L651.63 126.84 L657.33 126.8" stroke="#A832B0"/>
<path d="M418.8 129.6 L437.58 129.6 L438.05 129.58 L438.92 129.55 L440.04 129.52 L441.36 129.47 L442.87 129.42 L444.53 129.37 L446.34 129.32 L448.28 129.26 L450.35 129.2 L452.53 129.14 L454.83 129.07 L457.24 129.01 L459.74 128.95 L462.35 128.88 L465.05 128.82 L467.84 128.75 L470.72 128.69 L473.69 128.63 L476.74 128.57 L479.87 128.51 L483.08 128.45 L486.37 128.4 L489.74 128.35 L493.17 128.3 L496.69 128.25 L500.27 128.2 L503.92 128.16 L507.64 128.11 L511.42 128.08 L515.27 128.04 L519.19 128.01 L523.17 127.97 L527.22 127.94 L531.32 127.92 L535.49 127.89 L539.71 127.87 L544 127.85 L548.34 127.83 L552.74 127.82 L557.2 127.8 L561.71 127.79 L566.28 127.78 L570.9 127.77 L575.58 127.76 L580.31 127.75 L585.1 127.74 L589.93 127.73 L594.82 127.72 L599.76 127.71 L604.75 127.69 L609.79 127.68 L614.88 127.66 L620.02 127.64 L625.21 127.62 L630.44 127.6 L635.73 127.57 L641.06 127.53 L646.44 127.5 L651.86 127.45 L657.33 127.4" stroke="#5FC24A"/>
<path d="M418.8 129.6 L439.01 129.6 L439.48 129.67 L440.34 129.79 L441.45 129.94 L442.77 130.12 L444.26 130.32 L445.92 130.53 L447.71 130.75 L449.64 130.98 L451.7 131.21 L453.87 131.45 L456.15 131.68 L458.54 131.91 L461.03 132.14 L463.62 132.36 L466.3 132.57 L469.08 132.77 L471.94 132.96 L474.89 133.14 L477.92 133.3 L481.03 133.45 L484.22 133.58 L487.48 133.7 L490.83 133.8 L494.24 133.88 L497.73 133.94 L501.29 133.98 L504.92 134 L508.61 133.99 L512.37 133.97 L516.2 133.93 L520.09 133.87 L524.05 133.79 L528.06 133.69 L532.14 133.57 L536.28 133.43 L540.48 133.27 L544.73 133.09 L549.05 132.9 L553.42 132.7 L557.85 132.47 L562.33 132.24 L566.87 131.99 L571.47 131.74 L576.11 131.47 L580.81 131.2 L585.57 130.93 L590.37 130.65 L595.23 130.37 L600.14 130.09 L605.09 129.82 L610.1 129.56 L615.16 129.3 L620.26 129.06 L625.42 128.83 L630.62 128.63 L635.87 128.44 L641.16 128.28 L646.51 128.15 L651.9 128.06 L657.33 128" stroke="#3CCCD0"/>
<path d="M418.8 129.6 L428.27 129.6 L428.77 129.68 L429.67 129.83 L430.83 130.01 L432.22 130.22 L433.78 130.46 L435.52 130.71 L437.4 130.98 L439.43 131.25 L441.58 131.54 L443.86 131.82 L446.25 132.1 L448.76 132.38 L451.37 132.66 L454.09 132.93 L456.91 133.19 L459.82 133.44 L462.82 133.68 L465.91 133.91 L469.09 134.12 L472.36 134.31 L475.7 134.49 L479.13 134.65 L482.64 134.78 L486.22 134.9 L489.88 135 L493.61 135.07 L497.42 135.12 L501.3 135.16 L505.24 135.16 L509.26 135.15 L513.34 135.11 L517.49 135.05 L521.7 134.97 L525.98 134.87 L530.33 134.74 L534.73 134.6 L539.2 134.44 L543.72 134.26 L548.31 134.06 L552.96 133.84 L557.66 133.62 L562.42 133.38 L567.24 133.12 L572.12 132.86 L577.05 132.6 L582.04 132.32 L587.08 132.05 L592.17 131.77 L597.32 131.5 L602.52 131.24 L607.78 130.98 L613.08 130.73 L618.44 130.5 L623.85 130.29 L629.3 130.09 L634.81 129.93 L640.37 129.79 L645.97 129.69 L651.63 129.62 L657.33 129.6" stroke="#2E88D0"/>
<path d="M418.8 129.6 L435.6 129.6 L436.07 129.56 L436.95 129.49 L438.08 129.4 L439.41 129.3 L440.93 129.18 L442.61 129.06 L444.43 128.93 L446.39 128.8 L448.48 128.66 L450.68 128.53 L453 128.39 L455.43 128.26 L457.96 128.12 L460.59 128 L463.31 127.87 L466.13 127.75 L469.04 127.64 L472.03 127.54 L475.11 127.44 L478.27 127.35 L481.51 127.27 L484.83 127.21 L488.22 127.15 L491.69 127.1 L495.23 127.06 L498.85 127.03 L502.53 127.02 L506.28 127.02 L510.11 127.02 L513.99 127.04 L517.94 127.08 L521.96 127.12 L526.04 127.17 L530.18 127.24 L534.39 127.31 L538.65 127.4 L542.97 127.5 L547.36 127.6 L551.8 127.71 L556.29 127.84 L560.85 127.97 L565.46 128.1 L570.12 128.24 L574.84 128.39 L579.62 128.54 L584.44 128.69 L589.32 128.85 L594.26 129 L599.24 129.16 L604.28 129.31 L609.36 129.45 L614.5 129.59 L619.68 129.73 L624.92 129.85 L630.2 129.97 L635.53 130.07 L640.91 130.15 L646.34 130.22 L651.81 130.27 L657.33 130.3" stroke="#A832B0"/>
<path d="M418.8 129.6 L432.95 129.6 L433.43 129.61 L434.31 129.62 L435.46 129.63 L436.81 129.65 L438.35 129.66 L440.04 129.68 L441.89 129.7 L443.87 129.71 L445.98 129.73 L448.21 129.75 L450.56 129.77 L453.02 129.79 L455.58 129.81 L458.24 129.83 L461 129.85 L463.85 129.87 L466.79 129.89 L469.82 129.91 L472.93 129.94 L476.13 129.96 L479.41 129.98 L482.77 130 L486.2 130.03 L489.71 130.05 L493.3 130.07 L496.95 130.1 L500.68 130.12 L504.48 130.14 L508.35 130.17 L512.28 130.19 L516.28 130.22 L520.34 130.24 L524.47 130.27 L528.66 130.29 L532.92 130.32 L537.23 130.34 L541.61 130.37 L546.04 130.39 L550.53 130.42 L555.09 130.45 L559.7 130.47 L564.36 130.5 L569.08 130.53 L573.86 130.55 L578.69 130.58 L583.57 130.61 L588.51 130.63 L593.5 130.66 L598.55 130.69 L603.64 130.72 L608.79 130.74 L613.99 130.77 L619.23 130.8 L624.53 130.83 L629.88 130.86 L635.27 130.88 L640.71 130.91 L646.21 130.94 L651.74 130.97 L657.33 131" stroke="#3CCCD0"/>
<path d="M418.8 129.6 L439.53 129.6 L440 129.61 L440.86 129.63 L441.97 129.65 L443.28 129.68 L444.77 129.7 L446.42 129.73 L448.21 129.76 L450.14 129.79 L452.19 129.82 L454.35 129.85 L456.63 129.88 L459.01 129.91 L461.5 129.95 L464.08 129.98 L466.76 130.02 L469.52 130.05 L472.38 130.09 L475.32 130.12 L478.34 130.16 L481.45 130.2 L484.63 130.24 L487.89 130.27 L491.22 130.31 L494.63 130.35 L498.11 130.39 L501.66 130.43 L505.28 130.47 L508.97 130.51 L512.72 130.56 L516.54 130.6 L520.42 130.64 L524.36 130.68 L528.37 130.73 L532.44 130.77 L536.57 130.81 L540.76 130.86 L545 130.9 L549.31 130.95 L553.67 130.99 L558.09 131.04 L562.56 131.08 L567.09 131.13 L571.67 131.17 L576.31 131.22 L581 131.27 L585.74 131.31 L590.53 131.36 L595.38 131.41 L600.27 131.46 L605.22 131.51 L610.21 131.55 L615.26 131.6 L620.35 131.65 L625.49 131.7 L630.68 131.75 L635.92 131.8 L641.2 131.85 L646.53 131.9 L651.91 131.95 L657.33 132" stroke="#5FC24A"/>
<path d="M418.8 129.6 L427.33 129.6 L427.83 129.62 L428.73 129.64 L429.91 129.67 L431.29 129.7 L432.87 129.73 L434.61 129.77 L436.5 129.81 L438.53 129.85 L440.7 129.9 L442.98 129.94 L445.39 129.99 L447.91 130.04 L450.53 130.08 L453.26 130.14 L456.08 130.19 L459.01 130.24 L462.02 130.3 L465.13 130.35 L468.32 130.41 L471.6 130.47 L474.96 130.52 L478.4 130.58 L481.92 130.65 L485.52 130.71 L489.19 130.77 L492.94 130.83 L496.76 130.9 L500.66 130.96 L504.62 131.03 L508.65 131.09 L512.75 131.16 L516.92 131.23 L521.15 131.3 L525.44 131.37 L529.8 131.44 L534.23 131.51 L538.71 131.58 L543.26 131.65 L547.86 131.73 L552.53 131.8 L557.25 131.88 L562.03 131.95 L566.87 132.03 L571.77 132.1 L576.72 132.18 L581.73 132.26 L586.79 132.34 L591.91 132.41 L597.08 132.49 L602.3 132.57 L607.57 132.65 L612.9 132.73 L618.28 132.82 L623.71 132.9 L629.19 132.98 L634.72 133.06 L640.3 133.15 L645.93 133.23 L651.61 133.31 L657.33 133.4" stroke="#A832B0"/>
<path d="M418.8 129.6 L422.26 129.6 L422.77 129.84 L423.69 130.25 L424.89 130.74 L426.31 131.25 L427.91 131.75 L429.69 132.22 L431.63 132.64 L433.7 132.99 L435.92 133.28 L438.25 133.5 L440.71 133.64 L443.29 133.72 L445.97 133.73 L448.75 133.69 L451.64 133.6 L454.63 133.46 L457.71 133.3 L460.89 133.1 L464.15 132.88 L467.5 132.65 L470.93 132.41 L474.45 132.17 L478.05 131.92 L481.73 131.69 L485.48 131.45 L489.32 131.23 L493.22 131.02 L497.2 130.82 L501.25 130.64 L505.37 130.47 L509.56 130.31 L513.82 130.17 L518.14 130.03 L522.53 129.91 L526.99 129.81 L531.51 129.71 L536.09 129.62 L540.74 129.54 L545.45 129.47 L550.22 129.4 L555.04 129.35 L559.93 129.3 L564.88 129.25 L569.88 129.21 L574.94 129.17 L580.06 129.13 L585.23 129.1 L590.46 129.07 L595.75 129.04 L601.08 129.02 L606.48 128.99 L611.92 128.97 L617.42 128.95 L622.97 128.92 L628.57 128.9 L634.22 128.88 L639.92 128.86 L645.68 128.84 L651.48 128.82 L657.33 128.81" stroke="#2E88D0"/>
<path d="M418.8 129.6 L420.78 129.6 L421.28 129.62 L422.22 129.66 L423.42 129.71 L424.85 129.76 L426.47 129.81 L428.26 129.87 L430.2 129.94 L432.29 130 L434.52 130.07 L436.87 130.14 L439.34 130.21 L441.93 130.28 L444.63 130.36 L447.44 130.43 L450.34 130.5 L453.35 130.57 L456.45 130.65 L459.65 130.72 L462.93 130.79 L466.3 130.86 L469.76 130.93 L473.3 131 L476.92 131.07 L480.62 131.14 L484.4 131.2 L488.25 131.27 L492.18 131.33 L496.19 131.39 L500.26 131.45 L504.41 131.51 L508.63 131.57 L512.91 131.62 L517.26 131.67 L521.68 131.73 L526.17 131.78 L530.72 131.83 L535.33 131.87 L540 131.92 L544.74 131.97 L549.54 132.01 L554.4 132.05 L559.32 132.1 L564.29 132.14 L569.33 132.18 L574.42 132.22 L579.57 132.26 L584.78 132.31 L590.04 132.35 L595.36 132.39 L600.73 132.44 L606.15 132.48 L611.63 132.53 L617.17 132.58 L622.75 132.63 L628.39 132.68 L634.07 132.74 L639.81 132.8 L645.6 132.86 L651.44 132.93 L657.33 133" stroke="#3CCCD0"/>
<path d="M418.8 129.6 L421 122 L423.1 116.5 L430 115.2 L447.2 117.2 L470 121 L520 128 L657 142" fill="none" stroke="#5FC24A" stroke-width="1.2"/>
<path d="M418.8 129.6 L425 137 L431.9 141 L449.4 145.4 L480 152 L560 170 L657 192.2" fill="none" stroke="#2E88D0" stroke-width="1.2"/>
</g>
<rect x="409.5" y="21.4" width="257.1" height="212.5" stroke="#000" stroke-width="1.25" fill="none"/>
<line x1="418.8" y1="233.9" x2="418.8" y2="240.4" stroke="#000" stroke-width="1"/>
<text x="418.8" y="251.7" font-size="9" text-anchor="middle" fill="#000" dominant-baseline="central">0</text>
<line x1="461.66" y1="233.9" x2="461.66" y2="240.4" stroke="#000" stroke-width="1"/>
<text x="461.66" y="251.7" font-size="9" text-anchor="middle" fill="#000" dominant-baseline="central">50</text>
<line x1="504.51" y1="233.9" x2="504.51" y2="240.4" stroke="#000" stroke-width="1"/>
<text x="504.51" y="251.7" font-size="9" text-anchor="middle" fill="#000" dominant-baseline="central">100</text>
<line x1="547.37" y1="233.9" x2="547.37" y2="240.4" stroke="#000" stroke-width="1"/>
<text x="547.37" y="251.7" font-size="9" text-anchor="middle" fill="#000" dominant-baseline="central">150</text>
<line x1="590.22" y1="233.9" x2="590.22" y2="240.4" stroke="#000" stroke-width="1"/>
<text x="590.22" y="251.7" font-size="9" text-anchor="middle" fill="#000" dominant-baseline="central">200</text>
<line x1="633.08" y1="233.9" x2="633.08" y2="240.4" stroke="#000" stroke-width="1"/>
<text x="633.08" y="251.7" font-size="9" text-anchor="middle" fill="#000" dominant-baseline="central">250</text>
<line x1="418.8" y1="21.4" x2="418.8" y2="17.9" stroke="#000" stroke-width="1"/>
<text x="418.8" y="4.2" font-size="9" text-anchor="middle" fill="#000" dominant-baseline="central">0</text>
<line x1="461.66" y1="21.4" x2="461.66" y2="17.9" stroke="#000" stroke-width="1"/>
<text x="461.66" y="4.2" font-size="9" text-anchor="middle" fill="#000" dominant-baseline="central">61</text>
<line x1="504.51" y1="21.4" x2="504.51" y2="17.9" stroke="#000" stroke-width="1"/>
<text x="504.51" y="4.2" font-size="9" text-anchor="middle" fill="#000" dominant-baseline="central">65</text>
<line x1="547.37" y1="21.4" x2="547.37" y2="17.9" stroke="#000" stroke-width="1"/>
<text x="547.37" y="4.2" font-size="9" text-anchor="middle" fill="#000" dominant-baseline="central">68</text>
<line x1="590.22" y1="21.4" x2="590.22" y2="17.9" stroke="#000" stroke-width="1"/>
<text x="590.22" y="4.2" font-size="9" text-anchor="middle" fill="#000" dominant-baseline="central">71</text>
<line x1="633.08" y1="21.4" x2="633.08" y2="17.9" stroke="#000" stroke-width="1"/>
<text x="633.08" y="4.2" font-size="9" text-anchor="middle" fill="#000" dominant-baseline="central">76</text>
<line x1="404" y1="202" x2="409.5" y2="202" stroke="#000" stroke-width="1"/>
<text x="394" y="202" font-size="9" text-anchor="middle" fill="#000" transform="rotate(-90 394 202)" dominant-baseline="central">&#8722;10</text>
<line x1="404" y1="165.8" x2="409.5" y2="165.8" stroke="#000" stroke-width="1"/>
<text x="394" y="165.8" font-size="9" text-anchor="middle" fill="#000" transform="rotate(-90 394 165.8)" dominant-baseline="central">&#8722;5</text>
<line x1="404" y1="129.6" x2="409.5" y2="129.6" stroke="#000" stroke-width="1"/>
<text x="394" y="129.6" font-size="9" text-anchor="middle" fill="#000" transform="rotate(-90 394 129.6)" dominant-baseline="central">0</text>
<line x1="404" y1="93.4" x2="409.5" y2="93.4" stroke="#000" stroke-width="1"/>
<text x="394" y="93.4" font-size="9" text-anchor="middle" fill="#000" transform="rotate(-90 394 93.4)" dominant-baseline="central">5</text>
<line x1="404" y1="57.2" x2="409.5" y2="57.2" stroke="#000" stroke-width="1"/>
<text x="394" y="57.2" font-size="9" text-anchor="middle" fill="#000" transform="rotate(-90 394 57.2)" dominant-baseline="central">10</text>
<line x1="404" y1="21" x2="409.5" y2="21" stroke="#000" stroke-width="1"/>
<text x="394" y="21" font-size="9" text-anchor="middle" fill="#000" transform="rotate(-90 394 21)" dominant-baseline="central">15</text>
<text x="371.4" y="127.6" font-size="9.75" text-anchor="middle" fill="#000" transform="rotate(-90 371.4 127.6)" dominant-baseline="central">Coefficients</text>
<text x="537.9" y="268.8" font-size="9.05" text-anchor="middle" fill="#000" dominant-baseline="central">L1 Norm</text>
<text x="11.8" y="301" font-size="16.8" text-anchor="start" fill="#000" dominant-baseline="central">C</text>
<text x="186.6" y="292.4" font-size="10.9" text-anchor="middle" fill="#000" font-weight="bold" dominant-baseline="central">Random forest</text>
<clipPath id="cc"><rect x="51.5" y="314.6" width="270.1" height="228.8"/></clipPath>
<g clip-path="url(#cc)" stroke-linecap="butt" stroke-linejoin="miter">
<path d="M61.8 401.13 L62.3 428.75 L62.8 451.77 L63.3 444.86 L63.8 440.26 L64.3 433.35 L64.8 431.05 L65.3 431.05 L65.8 435.66 L66.3 433.35 L66.8 437.96 L67.3 442.56 L67.8 449.47 L68.3 442.56 L68.8 444.86 L69.3 449.47 L69.8 460.97 L70.3 458.67 L70.8 451.77 L71.3 454.07 L71.8 460.97 L72.3 460.97 L72.8 458.67 L73.3 460.97 L73.8 465.58 L74.31 467.88 L74.81 456.37 L75.31 458.67 L75.81 474.78 L76.31 474.78 L76.81 472.48 L77.31 472.48 L77.81 463.27 L78.31 463.27 L78.81 470.18 L79.31 470.18 L79.81 467.88 L80.31 467.88 L80.81 470.18 L81.31 470.18 L81.81 467.88 L82.31 465.58 L82.81 467.88 L83.31 470.18 L83.81 465.58 L84.31 470.18 L84.81 472.48 L85.31 472.48 L85.81 479.39 L86.31 477.08 L86.81 477.08 L87.31 483.99 L87.81 479.39 L88.31 486.29 L88.81 486.29 L89.31 474.78 L89.81 486.29 L90.31 481.69 L90.81 481.69 L91.31 479.39 L91.81 481.69 L92.31 481.69 L92.81 483.99 L93.31 486.29 L93.81 479.39 L94.31 479.39 L94.81 486.29 L95.31 486.29 L95.81 488.59 L96.31 479.39 L96.81 481.69 L97.31 488.59 L97.81 481.69 L98.31 481.69 L98.81 488.59 L99.32 488.59 L99.82 486.29 L100.32 486.29 L100.82 488.59 L101.32 490.89 L101.82 483.99 L102.32 486.29 L102.82 486.29 L103.32 486.29 L103.82 490.89 L104.32 488.59 L104.82 488.59 L105.32 495.5 L105.82 493.2 L106.32 490.89 L106.82 483.99 L107.32 481.69 L107.82 479.39 L108.32 477.08 L108.82 472.48 L109.32 472.48 L109.82 467.88 L110.32 465.58 L110.82 465.58 L111.32 465.58 L111.82 467.88 L112.32 470.18 L112.82 474.78 L113.32 474.78 L113.82 474.78 L114.32 472.48 L114.82 472.48 L115.32 479.39 L115.82 479.39 L116.32 483.99 L116.82 477.08 L117.32 483.99 L117.82 479.39 L118.32 479.39 L118.82 483.99 L119.32 479.39 L119.82 483.99 L120.32 483.99 L120.82 474.78 L121.32 479.39 L121.82 481.69 L122.32 474.78 L122.82 472.48 L123.32 479.39 L123.82 481.69 L124.33 477.08 L124.83 472.48 L125.33 470.18 L125.83 472.48 L126.33 470.18 L126.83 470.18 L127.33 472.48 L127.83 472.48 L128.33 474.78 L128.83 474.78 L129.33 472.48 L129.83 472.48 L130.33 472.48 L130.83 472.48 L131.33 474.78 L131.83 474.78 L132.33 472.48 L132.83 467.88 L133.33 467.88 L133.83 467.88 L134.33 472.48 L134.83 470.18 L135.33 463.27 L135.83 463.27 L136.33 465.58 L136.83 460.97 L137.33 460.97 L137.83 467.88 L138.33 470.18 L138.83 460.97 L139.33 460.97 L139.83 463.27 L140.33 465.58 L140.83 467.88 L141.33 467.88 L141.83 467.88 L142.33 463.27 L142.83 463.27 L143.33 467.88 L143.83 465.58 L144.33 465.58 L144.83 460.97 L145.33 460.97 L145.83 463.27 L146.33 470.18 L146.83 472.48 L147.33 472.48 L147.83 474.78 L148.33 467.88 L148.83 470.18 L149.34 474.78 L149.84 474.78 L150.34 479.39 L150.84 481.69 L151.34 479.39 L151.84 479.39 L152.34 479.39 L152.84 479.39 L153.34 479.39 L153.84 483.99 L154.34 483.99 L154.84 479.39 L155.34 479.39 L155.84 486.29 L156.34 488.59 L156.84 481.69 L157.34 486.29 L157.84 486.29 L158.34 488.59 L158.84 488.59 L159.34 493.2 L159.84 493.2 L160.34 488.59 L160.84 486.29 L161.34 486.29 L161.84 488.59 L162.34 488.59 L162.84 488.59 L163.34 488.59 L163.84 486.29 L164.34 486.29 L164.84 483.99 L165.34 483.99 L165.84 483.99 L166.34 483.99 L166.84 483.99 L167.34 483.99 L167.84 483.99 L168.34 481.69 L168.84 481.69 L169.34 481.69 L169.84 483.99 L170.34 481.69 L170.84 481.69 L171.34 483.99 L171.84 483.99 L172.34 483.99 L172.84 481.69 L173.34 481.69 L173.84 481.69 L174.35 481.69 L174.85 481.69 L175.35 481.69 L175.85 481.69 L176.35 481.69 L176.85 481.69 L177.35 481.69 L177.85 481.69 L178.35 481.69 L178.85 481.69 L179.35 481.69 L179.85 481.69 L180.35 481.69 L180.85 474.78 L181.35 474.78 L181.85 479.39 L182.35 479.39 L182.85 479.39 L183.35 474.78 L183.85 474.78 L184.35 479.39 L184.85 481.69 L185.35 481.69 L185.85 481.69 L186.35 481.69 L186.85 483.99 L187.35 479.39 L187.85 481.69 L188.35 481.69 L188.85 481.69 L189.35 481.69 L189.85 481.69 L190.35 488.59 L190.85 488.59 L191.35 483.99 L191.85 483.99 L192.35 483.99 L192.85 483.99 L193.35 490.89 L193.85 488.59 L194.35 488.59 L194.85 490.89 L195.35 486.29 L195.85 486.29 L196.35 486.29 L196.85 483.99 L197.35 483.99 L197.85 483.99 L198.35 483.99 L198.86 490.89 L199.36 486.29 L199.86 486.29 L200.36 486.29 L200.86 483.99 L201.36 481.69 L201.86 481.69 L202.36 488.59 L202.86 490.89 L203.36 488.59 L203.86 488.59 L204.36 486.29 L204.86 486.29 L205.36 486.29 L205.86 488.59 L206.36 488.59 L206.86 488.59 L207.36 483.99 L207.86 483.99 L208.36 483.99 L208.86 488.59 L209.36 488.59 L209.86 481.69 L210.36 481.69 L210.86 481.69 L211.36 481.69 L211.86 481.69 L212.36 486.29 L212.86 486.29 L213.36 486.29 L213.86 483.99 L214.36 483.99 L214.86 486.29 L215.36 486.29 L215.86 486.29 L216.36 486.29 L216.86 486.29 L217.36 483.99 L217.86 486.29 L218.36 481.69 L218.86 481.69 L219.36 481.69 L219.86 486.29 L220.36 486.29 L220.86 486.29 L221.36 481.69 L221.86 481.69 L222.36 481.69 L222.86 481.69 L223.36 481.69 L223.87 481.69 L224.37 483.99 L224.87 483.99 L225.37 483.99 L225.87 486.29 L226.37 486.29 L226.87 486.29 L227.37 481.69 L227.87 481.69 L228.37 481.69 L228.87 483.99 L229.37 483.99 L229.87 483.99 L230.37 486.29 L230.87 486.29 L231.37 486.29 L231.87 486.29 L232.37 486.29 L232.87 481.69 L233.37 481.69 L233.87 481.69 L234.37 481.69 L234.87 481.69 L235.37 483.99 L235.87 483.99 L236.37 483.99 L236.87 483.99 L237.37 483.99 L237.87 483.99 L238.37 483.99 L238.87 481.69 L239.37 481.69 L239.87 488.59 L240.37 488.59 L240.87 481.69 L241.37 486.29 L241.87 486.29 L242.37 486.29 L242.87 486.29 L243.37 481.69 L243.87 483.99 L244.37 483.99 L244.87 483.99 L245.37 483.99 L245.87 483.99 L246.37 483.99 L246.87 486.29 L247.37 486.29 L247.87 486.29 L248.37 481.69 L248.88 481.69 L249.38 481.69 L249.88 483.99 L250.38 483.99 L250.88 479.39 L251.38 481.69 L251.88 481.69 L252.38 481.69 L252.88 483.99 L253.38 481.69 L253.88 481.69 L254.38 481.69 L254.88 481.69 L255.38 481.69 L255.88 481.69 L256.38 488.59 L256.88 481.69 L257.38 481.69 L257.88 481.69 L258.38 486.29 L258.88 486.29 L259.38 486.29 L259.88 481.69 L260.38 481.69 L260.88 481.69 L261.38 486.29 L261.88 486.29 L262.38 486.29 L262.88 488.59 L263.38 488.59 L263.88 488.59 L264.38 481.69 L264.88 481.69 L265.38 488.59 L265.88 488.59 L266.38 483.99 L266.88 483.99 L267.38 483.99 L267.88 486.29 L268.38 486.29 L268.88 486.29 L269.38 486.29 L269.88 486.29 L270.38 486.29 L270.88 486.29 L271.38 481.69 L271.88 481.69 L272.38 486.29 L272.88 486.29 L273.38 486.29 L273.88 486.29 L274.39 486.29 L274.89 488.59 L275.39 488.59 L275.89 488.59 L276.39 488.59 L276.89 488.59 L277.39 481.69 L277.89 483.99 L278.39 483.99 L278.89 483.99 L279.39 486.29 L279.89 486.29 L280.39 481.69 L280.89 481.69 L281.39 483.99 L281.89 483.99 L282.39 483.99 L282.89 483.99 L283.39 483.99 L283.89 488.59 L284.39 488.59 L284.89 483.99 L285.39 483.99 L285.89 483.99 L286.39 486.29 L286.89 486.29 L287.39 486.29 L287.89 486.29 L288.39 486.29 L288.89 490.89 L289.39 490.89 L289.89 486.29 L290.39 486.29 L290.89 486.29 L291.39 486.29 L291.89 486.29 L292.39 486.29 L292.89 488.59 L293.39 488.59 L293.89 488.59 L294.39 493.2 L294.89 490.89 L295.39 486.29 L295.89 486.29 L296.39 483.99 L296.89 488.59 L297.39 483.99 L297.89 483.99 L298.39 483.99 L298.89 481.69 L299.4 483.99 L299.9 483.99 L300.4 483.99 L300.9 486.29 L301.4 483.99 L301.9 481.69 L302.4 481.69 L302.9 483.99 L303.4 481.69 L303.9 481.69 L304.4 479.39 L304.9 479.39 L305.4 481.69 L305.9 481.69 L306.4 481.69 L306.9 481.69 L307.4 483.99 L307.9 483.99 L308.4 486.29 L308.9 486.29 L309.4 486.29 L309.9 486.29 L310.4 483.99 L310.9 483.99 L311.4 483.99" fill="none" stroke="#000" stroke-width="2.3"/>
<path d="M61.8 318.27 L62.3 357.83 L62.8 381.57 L63.3 381.57 L63.8 397.39 L64.3 405.3 L64.8 405.3 L65.3 405.3 L65.8 413.21 L66.3 421.13 L66.8 405.3 L67.3 405.3 L67.8 413.21 L68.3 429.04 L68.8 436.95 L69.3 436.95 L69.8 436.95 L70.3 444.86 L70.8 429.04 L71.3 429.04 L71.8 421.13 L72.3 421.13 L72.8 421.13 L73.3 452.77 L73.8 452.77 L74.31 452.77 L74.81 452.77 L75.31 452.77 L75.81 429.04 L76.31 429.04 L76.81 429.04 L77.31 436.95 L77.81 436.95 L78.31 436.95 L78.81 452.77 L79.31 452.77 L79.81 444.86 L80.31 444.86 L80.81 452.77 L81.31 452.77 L81.81 421.13 L82.31 421.13 L82.81 444.86 L83.31 444.86 L83.81 444.86 L84.31 444.86 L84.81 444.86 L85.31 421.13 L85.81 421.13 L86.31 421.13 L86.81 429.04 L87.31 429.04 L87.81 429.04 L88.31 436.95 L88.81 436.95 L89.31 436.95 L89.81 444.86 L90.31 444.86 L90.81 444.86 L91.31 444.86 L91.81 444.86 L92.31 444.86 L92.81 436.95 L93.31 429.04 L93.81 429.04 L94.31 436.95 L94.81 436.95 L95.31 436.95 L95.81 436.95 L96.31 436.95 L96.81 436.95 L97.31 421.13 L97.81 421.13 L98.31 436.95 L98.81 436.95 L99.32 413.21 L99.82 436.95 L100.32 421.13 L100.82 436.95 L101.32 436.95 L101.82 436.95 L102.32 429.04 L102.82 421.13 L103.32 413.21 L103.82 413.21 L104.32 421.13 L104.82 421.13 L105.32 413.21 L105.82 429.04 L106.32 429.04 L106.82 421.13 L107.32 405.3 L107.82 405.3 L108.32 405.3 L108.82 405.3 L109.32 397.39 L109.82 397.39 L110.32 413.21 L110.82 413.21 L111.32 405.3 L111.82 405.3 L112.32 421.13 L112.82 413.21 L113.32 413.21 L113.82 413.21 L114.32 421.13 L114.82 421.13 L115.32 429.04 L115.82 429.04 L116.32 429.04 L116.82 429.04 L117.32 429.04 L117.82 429.04 L118.32 421.13 L118.82 421.13 L119.32 421.13 L119.82 421.13 L120.32 421.13 L120.82 413.21 L121.32 413.21 L121.82 405.3 L122.32 405.3 L122.82 413.21 L123.32 413.21 L123.82 413.21 L124.33 413.21 L124.83 405.3 L125.33 397.39 L125.83 397.39 L126.33 397.39 L126.83 397.39 L127.33 397.39 L127.83 405.3 L128.33 413.21 L128.83 405.3 L129.33 405.3 L129.83 397.39 L130.33 389.48 L130.83 397.39 L131.33 389.48 L131.83 397.39 L132.33 389.48 L132.83 389.48 L133.33 389.48 L133.83 389.48 L134.33 381.57 L134.83 373.66 L135.33 381.57 L135.83 381.57 L136.33 381.57 L136.83 389.48 L137.33 389.48 L137.83 381.57 L138.33 381.57 L138.83 381.57 L139.33 373.66 L139.83 373.66 L140.33 373.66 L140.83 381.57 L141.33 381.57 L141.83 373.66 L142.33 365.74 L142.83 373.66 L143.33 373.66 L143.83 373.66 L144.33 381.57 L144.83 381.57 L145.33 381.57 L145.83 389.48 L146.33 397.39 L146.83 389.48 L147.33 397.39 L147.83 413.21 L148.33 413.21 L148.83 413.21 L149.34 413.21 L149.84 405.3 L150.34 405.3 L150.84 421.13 L151.34 421.13 L151.84 421.13 L152.34 413.21 L152.84 413.21 L153.34 413.21 L153.84 421.13 L154.34 429.04 L154.84 429.04 L155.34 429.04 L155.84 429.04 L156.34 436.95 L156.84 436.95 L157.34 436.95 L157.84 436.95 L158.34 436.95 L158.84 444.86 L159.34 429.04 L159.84 429.04 L160.34 436.95 L160.84 436.95 L161.34 436.95 L161.84 436.95 L162.34 436.95 L162.84 444.86 L163.34 444.86 L163.84 436.95 L164.34 436.95 L164.84 436.95 L165.34 436.95 L165.84 436.95 L166.34 436.95 L166.84 436.95 L167.34 436.95 L167.84 436.95 L168.34 436.95 L168.84 429.04 L169.34 429.04 L169.84 421.13 L170.34 421.13 L170.84 421.13 L171.34 421.13 L171.84 421.13 L172.34 429.04 L172.84 429.04 L173.34 429.04 L173.84 429.04 L174.35 429.04 L174.85 413.21 L175.35 413.21 L175.85 413.21 L176.35 413.21 L176.85 413.21 L177.35 413.21 L177.85 413.21 L178.35 405.3 L178.85 413.21 L179.35 413.21 L179.85 413.21 L180.35 413.21 L180.85 413.21 L181.35 421.13 L181.85 421.13 L182.35 421.13 L182.85 421.13 L183.35 421.13 L183.85 421.13 L184.35 421.13 L184.85 421.13 L185.35 413.21 L185.85 413.21 L186.35 413.21 L186.85 413.21 L187.35 413.21 L187.85 405.3 L188.35 405.3 L188.85 421.13 L189.35 421.13 L189.85 413.21 L190.35 413.21 L190.85 413.21 L191.35 413.21 L191.85 421.13 L192.35 421.13 L192.85 413.21 L193.35 413.21 L193.85 421.13 L194.35 421.13 L194.85 421.13 L195.35 421.13 L195.85 413.21 L196.35 413.21 L196.85 429.04 L197.35 436.95 L197.85 436.95 L198.35 436.95 L198.86 436.95 L199.36 421.13 L199.86 421.13 L200.36 429.04 L200.86 429.04 L201.36 429.04 L201.86 429.04 L202.36 436.95 L202.86 436.95 L203.36 421.13 L203.86 421.13 L204.36 421.13 L204.86 429.04 L205.36 429.04 L205.86 413.21 L206.36 413.21 L206.86 413.21 L207.36 421.13 L207.86 421.13 L208.36 429.04 L208.86 429.04 L209.36 429.04 L209.86 429.04 L210.36 413.21 L210.86 413.21 L211.36 413.21 L211.86 413.21 L212.36 413.21 L212.86 413.21 L213.36 413.21 L213.86 413.21 L214.36 421.13 L214.86 421.13 L215.36 421.13 L215.86 421.13 L216.36 413.21 L216.86 413.21 L217.36 413.21 L217.86 421.13 L218.36 421.13 L218.86 429.04 L219.36 429.04 L219.86 421.13 L220.36 421.13 L220.86 429.04 L221.36 429.04 L221.86 429.04 L222.36 429.04 L222.86 429.04 L223.36 429.04 L223.87 429.04 L224.37 429.04 L224.87 429.04 L225.37 429.04 L225.87 429.04 L226.37 421.13 L226.87 421.13 L227.37 421.13 L227.87 421.13 L228.37 429.04 L228.87 429.04 L229.37 429.04 L229.87 429.04 L230.37 429.04 L230.87 421.13 L231.37 421.13 L231.87 421.13 L232.37 429.04 L232.87 421.13 L233.37 421.13 L233.87 421.13 L234.37 429.04 L234.87 429.04 L235.37 429.04 L235.87 429.04 L236.37 429.04 L236.87 436.95 L237.37 436.95 L237.87 436.95 L238.37 436.95 L238.87 436.95 L239.37 436.95 L239.87 436.95 L240.37 436.95 L240.87 436.95 L241.37 421.13 L241.87 421.13 L242.37 421.13 L242.87 421.13 L243.37 429.04 L243.87 429.04 L244.37 429.04 L244.87 429.04 L245.37 429.04 L245.87 429.04 L246.37 429.04 L246.87 429.04 L247.37 429.04 L247.87 429.04 L248.37 429.04 L248.88 429.04 L249.38 429.04 L249.88 429.04 L250.38 429.04 L250.88 429.04 L251.38 436.95 L251.88 436.95 L252.38 436.95 L252.88 429.04 L253.38 429.04 L253.88 429.04 L254.38 429.04 L254.88 429.04 L255.38 429.04 L255.88 429.04 L256.38 429.04 L256.88 421.13 L257.38 421.13 L257.88 429.04 L258.38 429.04 L258.88 429.04 L259.38 436.95 L259.88 436.95 L260.38 436.95 L260.88 429.04 L261.38 429.04 L261.88 429.04 L262.38 429.04 L262.88 429.04 L263.38 436.95 L263.88 436.95 L264.38 436.95 L264.88 436.95 L265.38 436.95 L265.88 436.95 L266.38 436.95 L266.88 436.95 L267.38 436.95 L267.88 436.95 L268.38 436.95 L268.88 444.86 L269.38 444.86 L269.88 444.86 L270.38 436.95 L270.88 436.95 L271.38 429.04 L271.88 429.04 L272.38 436.95 L272.88 436.95 L273.38 436.95 L273.88 436.95 L274.39 436.95 L274.89 436.95 L275.39 436.95 L275.89 436.95 L276.39 444.86 L276.89 444.86 L277.39 444.86 L277.89 444.86 L278.39 444.86 L278.89 429.04 L279.39 429.04 L279.89 429.04 L280.39 429.04 L280.89 444.86 L281.39 444.86 L281.89 444.86 L282.39 444.86 L282.89 444.86 L283.39 436.95 L283.89 436.95 L284.39 436.95 L284.89 436.95 L285.39 444.86 L285.89 436.95 L286.39 436.95 L286.89 436.95 L287.39 444.86 L287.89 444.86 L288.39 444.86 L288.89 444.86 L289.39 429.04 L289.89 429.04 L290.39 429.04 L290.89 429.04 L291.39 429.04 L291.89 429.04 L292.39 429.04 L292.89 436.95 L293.39 436.95 L293.89 444.86 L294.39 444.86 L294.89 444.86 L295.39 444.86 L295.89 444.86 L296.39 436.95 L296.89 436.95 L297.39 436.95 L297.89 436.95 L298.39 436.95 L298.89 436.95 L299.4 436.95 L299.9 436.95 L300.4 436.95 L300.9 436.95 L301.4 436.95 L301.9 429.04 L302.4 429.04 L302.9 429.04 L303.4 429.04 L303.9 429.04 L304.4 421.13 L304.9 421.13 L305.4 421.13 L305.9 421.13 L306.4 421.13 L306.9 421.13 L307.4 436.95 L307.9 436.95 L308.4 436.95 L308.9 429.04 L309.4 429.04 L309.9 429.04 L310.4 421.13 L310.9 421.13 L311.4 429.04" fill="none" stroke="#D9536D" stroke-width="2.1" stroke-dasharray="5.4 6" stroke-linecap="round"/>
<path d="M61.8 457.33 L62.3 453.25 L62.8 453.25 L63.3 449.18 L63.8 445.1 L64.3 432.87 L64.8 432.87 L65.3 432.87 L65.8 445.1 L66.3 445.1 L66.8 449.18 L67.3 449.18 L67.8 461.4 L68.3 461.4 L68.8 465.48 L69.3 465.48 L69.8 469.56 L70.3 469.56 L70.8 453.25 L71.3 457.33 L71.8 457.33 L72.3 465.48 L72.8 465.48 L73.3 465.48 L73.8 469.56 L74.31 469.56 L74.81 473.63 L75.31 473.63 L75.81 477.71 L76.31 481.78 L76.81 485.86 L77.31 489.94 L77.81 489.94 L78.31 494.01 L78.81 494.01 L79.31 494.01 L79.81 498.09 L80.31 498.09 L80.81 502.16 L81.31 502.16 L81.81 506.24 L82.31 506.24 L82.81 506.24 L83.31 506.24 L83.81 506.24 L84.31 506.24 L84.81 506.24 L85.31 498.09 L85.81 498.09 L86.31 498.09 L86.81 498.09 L87.31 498.09 L87.81 498.09 L88.31 498.09 L88.81 502.16 L89.31 502.16 L89.81 502.16 L90.31 510.31 L90.81 510.31 L91.31 510.31 L91.81 510.31 L92.31 510.31 L92.81 510.31 L93.31 514.39 L93.81 514.39 L94.31 514.39 L94.81 514.39 L95.31 518.47 L95.81 518.47 L96.31 518.47 L96.81 522.54 L97.31 522.54 L97.81 522.54 L98.31 514.39 L98.81 514.39 L99.32 518.47 L99.82 518.47 L100.32 518.47 L100.82 518.47 L101.32 522.54 L101.82 522.54 L102.32 522.54 L102.82 522.54 L103.32 526.62 L103.82 526.62 L104.32 526.62 L104.82 526.62 L105.32 526.62 L105.82 526.62 L106.32 526.62 L106.82 526.62 L107.32 526.62 L107.82 522.54 L108.32 522.54 L108.82 522.54 L109.32 522.54 L109.82 522.54 L110.32 522.54 L110.82 522.54 L111.32 522.54 L111.82 522.54 L112.32 522.54 L112.82 518.47 L113.32 518.47 L113.82 518.47 L114.32 514.39 L114.82 514.39 L115.32 514.39 L115.82 514.39 L116.32 514.39 L116.82 514.39 L117.32 518.47 L117.82 518.47 L118.32 518.47 L118.82 518.47 L119.32 518.47 L119.82 518.47 L120.32 518.47 L120.82 518.47 L121.32 518.47 L121.82 518.47 L122.32 518.47 L122.82 518.47 L123.32 518.47 L123.82 518.47 L124.33 518.47 L124.83 518.47 L125.33 518.47 L125.83 518.47 L126.33 514.39 L126.83 514.39 L127.33 514.39 L127.83 514.39 L128.33 514.39 L128.83 522.54 L129.33 522.54 L129.83 522.54 L130.33 518.47 L130.83 518.47 L131.33 518.47 L131.83 518.47 L132.33 518.47 L132.83 514.39 L133.33 514.39 L133.83 514.39 L134.33 514.39 L134.83 514.39 L135.33 522.54 L135.83 522.54 L136.33 522.54 L136.83 518.47 L137.33 518.47 L137.83 522.54 L138.33 522.54 L138.83 522.54 L139.33 522.54 L139.83 514.39 L140.33 518.47 L140.83 518.47 L141.33 518.47 L141.83 518.47 L142.33 518.47 L142.83 522.54 L143.33 522.54 L143.83 522.54 L144.33 522.54 L144.83 522.54 L145.33 522.54 L145.83 522.54 L146.33 522.54 L146.83 522.54 L147.33 522.54 L147.83 522.54 L148.33 518.47 L148.83 518.47 L149.34 518.47 L149.84 518.47 L150.34 518.47 L150.84 518.47 L151.34 522.54 L151.84 522.54 L152.34 522.54 L152.84 522.54 L153.34 526.62 L153.84 526.62 L154.34 526.62 L154.84 526.62 L155.34 518.47 L155.84 518.47 L156.34 518.47 L156.84 522.54 L157.34 522.54 L157.84 522.54 L158.34 522.54 L158.84 522.54 L159.34 522.54 L159.84 522.54 L160.34 530.69 L160.84 530.69 L161.34 530.69 L161.84 530.69 L162.34 530.69 L162.84 530.69 L163.34 530.69 L163.84 530.69 L164.34 530.69 L164.84 526.62 L165.34 526.62 L165.84 526.62 L166.34 526.62 L166.84 526.62 L167.34 526.62 L167.84 526.62 L168.34 526.62 L168.84 526.62 L169.34 526.62 L169.84 526.62 L170.34 526.62 L170.84 526.62 L171.34 526.62 L171.84 526.62 L172.34 526.62 L172.84 530.69 L173.34 530.69 L173.84 530.69 L174.35 530.69 L174.85 530.69 L175.35 530.69 L175.85 526.62 L176.35 526.62 L176.85 526.62 L177.35 526.62 L177.85 526.62 L178.35 526.62 L178.85 526.62 L179.35 526.62 L179.85 530.69 L180.35 530.69 L180.85 530.69 L181.35 530.69 L181.85 530.69 L182.35 530.69 L182.85 522.54 L183.35 522.54 L183.85 522.54 L184.35 522.54 L184.85 530.69 L185.35 530.69 L185.85 530.69 L186.35 530.69 L186.85 526.62 L187.35 526.62 L187.85 526.62 L188.35 526.62 L188.85 526.62 L189.35 526.62 L189.85 526.62 L190.35 530.69 L190.85 530.69 L191.35 534.77 L191.85 534.77 L192.35 534.77 L192.85 534.77 L193.35 534.77 L193.85 534.77 L194.35 534.77 L194.85 534.77 L195.35 534.77 L195.85 534.77 L196.35 534.77 L196.85 526.62 L197.35 526.62 L197.85 526.62 L198.35 530.69 L198.86 530.69 L199.36 530.69 L199.86 530.69 L200.36 530.69 L200.86 530.69 L201.36 530.69 L201.86 526.62 L202.36 526.62 L202.86 526.62 L203.36 526.62 L203.86 526.62 L204.36 526.62 L204.86 522.54 L205.36 522.54 L205.86 522.54 L206.36 526.62 L206.86 526.62 L207.36 526.62 L207.86 530.69 L208.36 530.69 L208.86 530.69 L209.36 530.69 L209.86 530.69 L210.36 530.69 L210.86 530.69 L211.36 530.69 L211.86 530.69 L212.36 530.69 L212.86 530.69 L213.36 530.69 L213.86 530.69 L214.36 530.69 L214.86 522.54 L215.36 526.62 L215.86 526.62 L216.36 526.62 L216.86 526.62 L217.36 526.62 L217.86 526.62 L218.36 526.62 L218.86 526.62 L219.36 526.62 L219.86 526.62 L220.36 526.62 L220.86 526.62 L221.36 522.54 L221.86 530.69 L222.36 530.69 L222.86 530.69 L223.36 530.69 L223.87 530.69 L224.37 530.69 L224.87 530.69 L225.37 530.69 L225.87 530.69 L226.37 530.69 L226.87 530.69 L227.37 526.62 L227.87 526.62 L228.37 526.62 L228.87 526.62 L229.37 526.62 L229.87 526.62 L230.37 526.62 L230.87 526.62 L231.37 526.62 L231.87 522.54 L232.37 522.54 L232.87 522.54 L233.37 522.54 L233.87 522.54 L234.37 522.54 L234.87 522.54 L235.37 522.54 L235.87 522.54 L236.37 522.54 L236.87 522.54 L237.37 522.54 L237.87 522.54 L238.37 522.54 L238.87 522.54 L239.37 522.54 L239.87 522.54 L240.37 522.54 L240.87 522.54 L241.37 518.47 L241.87 518.47 L242.37 518.47 L242.87 518.47 L243.37 518.47 L243.87 518.47 L244.37 518.47 L244.87 518.47 L245.37 518.47 L245.87 518.47 L246.37 518.47 L246.87 518.47 L247.37 518.47 L247.87 522.54 L248.37 522.54 L248.88 522.54 L249.38 522.54 L249.88 522.54 L250.38 522.54 L250.88 522.54 L251.38 522.54 L251.88 526.62 L252.38 526.62 L252.88 526.62 L253.38 522.54 L253.88 522.54 L254.38 522.54 L254.88 522.54 L255.38 526.62 L255.88 526.62 L256.38 526.62 L256.88 526.62 L257.38 526.62 L257.88 526.62 L258.38 518.47 L258.88 518.47 L259.38 518.47 L259.88 518.47 L260.38 518.47 L260.88 522.54 L261.38 522.54 L261.88 518.47 L262.38 518.47 L262.88 518.47 L263.38 522.54 L263.88 522.54 L264.38 522.54 L264.88 522.54 L265.38 522.54 L265.88 522.54 L266.38 522.54 L266.88 518.47 L267.38 518.47 L267.88 518.47 L268.38 518.47 L268.88 518.47 L269.38 518.47 L269.88 518.47 L270.38 518.47 L270.88 518.47 L271.38 514.39 L271.88 514.39 L272.38 514.39 L272.88 514.39 L273.38 514.39 L273.88 514.39 L274.39 514.39 L274.89 514.39 L275.39 514.39 L275.89 514.39 L276.39 514.39 L276.89 514.39 L277.39 514.39 L277.89 514.39 L278.39 522.54 L278.89 522.54 L279.39 522.54 L279.89 522.54 L280.39 522.54 L280.89 522.54 L281.39 522.54 L281.89 522.54 L282.39 518.47 L282.89 518.47 L283.39 522.54 L283.89 522.54 L284.39 518.47 L284.89 518.47 L285.39 518.47 L285.89 518.47 L286.39 518.47 L286.89 518.47 L287.39 518.47 L287.89 522.54 L288.39 522.54 L288.89 526.62 L289.39 526.62 L289.89 526.62 L290.39 526.62 L290.89 526.62 L291.39 522.54 L291.89 522.54 L292.39 522.54 L292.89 522.54 L293.39 522.54 L293.89 522.54 L294.39 526.62 L294.89 526.62 L295.39 526.62 L295.89 526.62 L296.39 518.47 L296.89 518.47 L297.39 518.47 L297.89 518.47 L298.39 518.47 L298.89 518.47 L299.4 518.47 L299.9 518.47 L300.4 518.47 L300.9 526.62 L301.4 526.62 L301.9 522.54 L302.4 522.54 L302.9 522.54 L303.4 522.54 L303.9 518.47 L304.4 518.47 L304.9 518.47 L305.4 518.47 L305.9 518.47 L306.4 522.54" fill="none" stroke="#64C24F" stroke-width="2.1" stroke-dasharray="1.8 4.6"/>
</g>
<rect x="51.5" y="314.6" width="270.1" height="228.8" stroke="#000" stroke-width="1.25" fill="none"/>
<line x1="61.3" y1="543.4" x2="61.3" y2="549.6" stroke="#000" stroke-width="1"/>
<text x="61.3" y="560.4" font-size="9" text-anchor="middle" fill="#000" dominant-baseline="central">0</text>
<line x1="111.32" y1="543.4" x2="111.32" y2="549.6" stroke="#000" stroke-width="1"/>
<text x="111.32" y="560.4" font-size="9" text-anchor="middle" fill="#000" dominant-baseline="central">100</text>
<line x1="161.34" y1="543.4" x2="161.34" y2="549.6" stroke="#000" stroke-width="1"/>
<text x="161.34" y="560.4" font-size="9" text-anchor="middle" fill="#000" dominant-baseline="central">200</text>
<line x1="211.36" y1="543.4" x2="211.36" y2="549.6" stroke="#000" stroke-width="1"/>
<text x="211.36" y="560.4" font-size="9" text-anchor="middle" fill="#000" dominant-baseline="central">300</text>
<line x1="261.38" y1="543.4" x2="261.38" y2="549.6" stroke="#000" stroke-width="1"/>
<text x="261.38" y="560.4" font-size="9" text-anchor="middle" fill="#000" dominant-baseline="central">400</text>
<line x1="311.4" y1="543.4" x2="311.4" y2="549.6" stroke="#000" stroke-width="1"/>
<text x="311.4" y="560.4" font-size="9" text-anchor="middle" fill="#000" dominant-baseline="central">500</text>
<line x1="45.5" y1="523.5" x2="51.5" y2="523.5" stroke="#000" stroke-width="1"/>
<text x="34.7" y="523.5" font-size="9" text-anchor="middle" fill="#000" transform="rotate(-90 34.7 523.5)" dominant-baseline="central">0.1</text>
<line x1="45.5" y1="475.55" x2="51.5" y2="475.55" stroke="#000" stroke-width="1"/>
<text x="34.7" y="475.55" font-size="9" text-anchor="middle" fill="#000" transform="rotate(-90 34.7 475.55)" dominant-baseline="central">0.2</text>
<line x1="45.5" y1="427.6" x2="51.5" y2="427.6" stroke="#000" stroke-width="1"/>
<text x="34.7" y="427.6" font-size="9" text-anchor="middle" fill="#000" transform="rotate(-90 34.7 427.6)" dominant-baseline="central">0.3</text>
<line x1="45.5" y1="379.65" x2="51.5" y2="379.65" stroke="#000" stroke-width="1"/>
<text x="34.7" y="379.65" font-size="9" text-anchor="middle" fill="#000" transform="rotate(-90 34.7 379.65)" dominant-baseline="central">0.4</text>
<line x1="45.5" y1="331.7" x2="51.5" y2="331.7" stroke="#000" stroke-width="1"/>
<text x="34.7" y="331.7" font-size="9" text-anchor="middle" fill="#000" transform="rotate(-90 34.7 331.7)" dominant-baseline="central">0.5</text>
<text x="12.1" y="428.6" font-size="10" text-anchor="middle" fill="#000" transform="rotate(-90 12.1 428.6)" dominant-baseline="central">Error</text>
<text x="186.4" y="582" font-size="9.2" text-anchor="middle" fill="#000" dominant-baseline="central">trees</text>
<text x="369.5" y="288" font-size="16.8" text-anchor="start" fill="#000" dominant-baseline="central">D</text>
<rect x="403.5" y="306.5" width="207.6" height="304.8" stroke="none" stroke-width="1" fill="#fff"/>
<g stroke="#ebebeb">
<line x1="436.88" y1="306.5" x2="436.88" y2="611.3" stroke="#ececec" stroke-width="0.9"/>
<line x1="485.23" y1="306.5" x2="485.23" y2="611.3" stroke="#ececec" stroke-width="0.9"/>
<line x1="533.58" y1="306.5" x2="533.58" y2="611.3" stroke="#ececec" stroke-width="0.9"/>
<line x1="581.92" y1="306.5" x2="581.92" y2="611.3" stroke="#ececec" stroke-width="0.9"/>
<line x1="412.7" y1="306.5" x2="412.7" y2="611.3" stroke="#e8e8e8" stroke-width="1.3"/>
<line x1="461.05" y1="306.5" x2="461.05" y2="611.3" stroke="#e8e8e8" stroke-width="1.3"/>
<line x1="509.4" y1="306.5" x2="509.4" y2="611.3" stroke="#e8e8e8" stroke-width="1.3"/>
<line x1="557.75" y1="306.5" x2="557.75" y2="611.3" stroke="#e8e8e8" stroke-width="1.3"/>
<line x1="606.1" y1="306.5" x2="606.1" y2="611.3" stroke="#e8e8e8" stroke-width="1.3"/>
<line x1="403.5" y1="312.3" x2="611.1" y2="312.3" stroke="#e8e8e8" stroke-width="1.3"/>
<line x1="403.5" y1="322.42" x2="611.1" y2="322.42" stroke="#e8e8e8" stroke-width="1.3"/>
<line x1="403.5" y1="332.54" x2="611.1" y2="332.54" stroke="#e8e8e8" stroke-width="1.3"/>
<line x1="403.5" y1="342.66" x2="611.1" y2="342.66" stroke="#e8e8e8" stroke-width="1.3"/>
<line x1="403.5" y1="352.78" x2="611.1" y2="352.78" stroke="#e8e8e8" stroke-width="1.3"/>
<line x1="403.5" y1="362.9" x2="611.1" y2="362.9" stroke="#e8e8e8" stroke-width="1.3"/>
<line x1="403.5" y1="373.02" x2="611.1" y2="373.02" stroke="#e8e8e8" stroke-width="1.3"/>
<line x1="403.5" y1="383.14" x2="611.1" y2="383.14" stroke="#e8e8e8" stroke-width="1.3"/>
<line x1="403.5" y1="393.26" x2="611.1" y2="393.26" stroke="#e8e8e8" stroke-width="1.3"/>
<line x1="403.5" y1="403.38" x2="611.1" y2="403.38" stroke="#e8e8e8" stroke-width="1.3"/>
<line x1="403.5" y1="413.5" x2="611.1" y2="413.5" stroke="#e8e8e8" stroke-width="1.3"/>
<line x1="403.5" y1="423.62" x2="611.1" y2="423.62" stroke="#e8e8e8" stroke-width="1.3"/>
<line x1="403.5" y1="433.74" x2="611.1" y2="433.74" stroke="#e8e8e8" stroke-width="1.3"/>
<line x1="403.5" y1="443.86" x2="611.1" y2="443.86" stroke="#e8e8e8" stroke-width="1.3"/>
<line x1="403.5" y1="453.98" x2="611.1" y2="453.98" stroke="#e8e8e8" stroke-width="1.3"/>
<line x1="403.5" y1="464.1" x2="611.1" y2="464.1" stroke="#e8e8e8" stroke-width="1.3"/>
<line x1="403.5" y1="474.22" x2="611.1" y2="474.22" stroke="#e8e8e8" stroke-width="1.3"/>
<line x1="403.5" y1="484.34" x2="611.1" y2="484.34" stroke="#e8e8e8" stroke-width="1.3"/>
<line x1="403.5" y1="494.46" x2="611.1" y2="494.46" stroke="#e8e8e8" stroke-width="1.3"/>
<line x1="403.5" y1="504.58" x2="611.1" y2="504.58" stroke="#e8e8e8" stroke-width="1.3"/>
<line x1="403.5" y1="514.7" x2="611.1" y2="514.7" stroke="#e8e8e8" stroke-width="1.3"/>
<line x1="403.5" y1="524.82" x2="611.1" y2="524.82" stroke="#e8e8e8" stroke-width="1.3"/>
<line x1="403.5" y1="534.94" x2="611.1" y2="534.94" stroke="#e8e8e8" stroke-width="1.3"/>
<line x1="403.5" y1="545.06" x2="611.1" y2="545.06" stroke="#e8e8e8" stroke-width="1.3"/>
<line x1="403.5" y1="555.18" x2="611.1" y2="555.18" stroke="#e8e8e8" stroke-width="1.3"/>
<line x1="403.5" y1="565.3" x2="611.1" y2="565.3" stroke="#e8e8e8" stroke-width="1.3"/>
<line x1="403.5" y1="575.42" x2="611.1" y2="575.42" stroke="#e8e8e8" stroke-width="1.3"/>
<line x1="403.5" y1="585.54" x2="611.1" y2="585.54" stroke="#e8e8e8" stroke-width="1.3"/>
<line x1="403.5" y1="595.66" x2="611.1" y2="595.66" stroke="#e8e8e8" stroke-width="1.3"/>
<line x1="403.5" y1="605.78" x2="611.1" y2="605.78" stroke="#e8e8e8" stroke-width="1.3"/>
</g>
<rect x="412.7" y="310" width="189.05" height="4.6" fill="#bebebe"/>
<rect x="412.7" y="320.12" width="112.41" height="4.6" fill="#bebebe"/>
<rect x="412.7" y="330.24" width="106.71" height="4.6" fill="#bebebe"/>
<rect x="412.7" y="340.36" width="98.39" height="4.6" fill="#bebebe"/>
<rect x="412.7" y="350.48" width="98.15" height="4.6" fill="#bebebe"/>
<rect x="412.7" y="360.6" width="94.77" height="4.6" fill="#bebebe"/>
<rect x="412.7" y="370.72" width="91.14" height="4.6" fill="#bebebe"/>
<rect x="412.7" y="380.84" width="89.11" height="4.6" fill="#bebebe"/>
<rect x="412.7" y="390.96" width="84.9" height="4.6" fill="#bebebe"/>
<rect x="412.7" y="401.08" width="82.68" height="4.6" fill="#bebebe"/>
<rect x="412.7" y="411.2" width="81.52" height="4.6" fill="#bebebe"/>
<rect x="412.7" y="421.32" width="78.52" height="4.6" fill="#bebebe"/>
<rect x="412.7" y="431.44" width="76.78" height="4.6" fill="#bebebe"/>
<rect x="412.7" y="441.56" width="65.47" height="4.6" fill="#bebebe"/>
<rect x="412.7" y="451.68" width="63.1" height="4.6" fill="#bebebe"/>
<rect x="412.7" y="461.8" width="57.54" height="4.6" fill="#bebebe"/>
<rect x="412.7" y="471.92" width="57.05" height="4.6" fill="#bebebe"/>
<rect x="412.7" y="482.04" width="56.09" height="4.6" fill="#bebebe"/>
<rect x="412.7" y="492.16" width="53.67" height="4.6" fill="#bebebe"/>
<rect x="412.7" y="502.28" width="52.22" height="4.6" fill="#bebebe"/>
<rect x="412.7" y="512.4" width="52.22" height="4.6" fill="#bebebe"/>
<rect x="412.7" y="522.52" width="49.8" height="4.6" fill="#bebebe"/>
<rect x="412.7" y="532.64" width="48.35" height="4.6" fill="#bebebe"/>
<rect x="412.7" y="542.76" width="47.38" height="4.6" fill="#bebebe"/>
<rect x="412.7" y="552.88" width="45.45" height="4.6" fill="#bebebe"/>
<rect x="412.7" y="563" width="44.48" height="4.6" fill="#bebebe"/>
<rect x="412.7" y="573.12" width="43.51" height="4.6" fill="#bebebe"/>
<rect x="412.7" y="583.24" width="41.58" height="4.6" fill="#bebebe"/>
<rect x="412.7" y="593.36" width="41.1" height="4.6" fill="#bebebe"/>
<rect x="412.7" y="603.48" width="40.13" height="4.6" fill="#bebebe"/>
<circle cx="601.75" cy="312.3" r="4.8" fill="#a32a26"/>
<circle cx="525.11" cy="322.42" r="4.8" fill="#7e5c4e"/>
<circle cx="519.41" cy="332.54" r="4.8" fill="#7a5e51"/>
<circle cx="511.09" cy="342.66" r="4.8" fill="#756256"/>
<circle cx="510.85" cy="352.78" r="4.8" fill="#746256"/>
<circle cx="507.47" cy="362.9" r="4.8" fill="#726458"/>
<circle cx="503.84" cy="373.02" r="4.8" fill="#6f655a"/>
<circle cx="501.81" cy="383.14" r="4.8" fill="#6e665b"/>
<circle cx="497.6" cy="393.26" r="4.8" fill="#6a685d"/>
<circle cx="495.38" cy="403.38" r="4.8" fill="#69695e"/>
<circle cx="494.22" cy="413.5" r="4.8" fill="#686a5f"/>
<circle cx="491.22" cy="423.62" r="4.8" fill="#656b61"/>
<circle cx="489.48" cy="433.74" r="4.8" fill="#636c61"/>
<circle cx="478.17" cy="443.86" r="4.8" fill="#587068"/>
<circle cx="475.8" cy="453.98" r="4.8" fill="#567169"/>
<circle cx="470.24" cy="464.1" r="4.8" fill="#4f736c"/>
<circle cx="469.75" cy="474.22" r="4.8" fill="#4f746c"/>
<circle cx="468.79" cy="484.34" r="4.8" fill="#4d746d"/>
<circle cx="466.37" cy="494.46" r="4.8" fill="#4a756e"/>
<circle cx="464.92" cy="504.58" r="4.8" fill="#48756f"/>
<circle cx="464.92" cy="514.7" r="4.8" fill="#48756f"/>
<circle cx="462.5" cy="524.82" r="4.8" fill="#457671"/>
<circle cx="461.05" cy="534.94" r="4.8" fill="#437771"/>
<circle cx="460.08" cy="545.06" r="4.8" fill="#417772"/>
<circle cx="458.15" cy="555.18" r="4.8" fill="#3e7873"/>
<circle cx="457.18" cy="565.3" r="4.8" fill="#3c7874"/>
<circle cx="456.21" cy="575.42" r="4.8" fill="#3b7974"/>
<circle cx="454.28" cy="585.54" r="4.8" fill="#377975"/>
<circle cx="453.8" cy="595.66" r="4.8" fill="#367a75"/>
<circle cx="452.83" cy="605.78" r="4.8" fill="#347a76"/>
<rect x="403.5" y="306.5" width="207.6" height="304.8" stroke="#333" stroke-width="1.25" fill="none"/>
<line x1="400.5" y1="312.3" x2="403.5" y2="312.3" stroke="#333" stroke-width="1.1"/>
<text x="397.8" y="312.6" font-size="9.1" text-anchor="end" fill="#4d4d4d" dominant-baseline="central">FOSB</text>
<line x1="400.5" y1="322.42" x2="403.5" y2="322.42" stroke="#333" stroke-width="1.1"/>
<text x="397.8" y="322.72" font-size="9.1" text-anchor="end" fill="#4d4d4d" dominant-baseline="central">CETN2</text>
<line x1="400.5" y1="332.54" x2="403.5" y2="332.54" stroke="#333" stroke-width="1.1"/>
<text x="397.8" y="332.84" font-size="9.1" text-anchor="end" fill="#4d4d4d" dominant-baseline="central">SOCS2</text>
<line x1="400.5" y1="342.66" x2="403.5" y2="342.66" stroke="#333" stroke-width="1.1"/>
<text x="397.8" y="342.96" font-size="9.1" text-anchor="end" fill="#4d4d4d" dominant-baseline="central">ZFP36L2</text>
<line x1="400.5" y1="352.78" x2="403.5" y2="352.78" stroke="#333" stroke-width="1.1"/>
<text x="397.8" y="353.08" font-size="9.1" text-anchor="end" fill="#4d4d4d" dominant-baseline="central">PHLDA1</text>
<line x1="400.5" y1="362.9" x2="403.5" y2="362.9" stroke="#333" stroke-width="1.1"/>
<text x="397.8" y="363.2" font-size="9.1" text-anchor="end" fill="#4d4d4d" dominant-baseline="central">NAMPT</text>
<line x1="400.5" y1="373.02" x2="403.5" y2="373.02" stroke="#333" stroke-width="1.1"/>
<text x="397.8" y="373.32" font-size="9.1" text-anchor="end" fill="#4d4d4d" dominant-baseline="central">MAGED2</text>
<line x1="400.5" y1="383.14" x2="403.5" y2="383.14" stroke="#333" stroke-width="1.1"/>
<text x="397.8" y="383.44" font-size="9.1" text-anchor="end" fill="#4d4d4d" dominant-baseline="central">MYC</text>
<line x1="400.5" y1="393.26" x2="403.5" y2="393.26" stroke="#333" stroke-width="1.1"/>
<text x="397.8" y="393.56" font-size="9.1" text-anchor="end" fill="#4d4d4d" dominant-baseline="central">GLIS3</text>
<line x1="400.5" y1="403.38" x2="403.5" y2="403.38" stroke="#333" stroke-width="1.1"/>
<text x="397.8" y="403.68" font-size="9.1" text-anchor="end" fill="#4d4d4d" dominant-baseline="central">NR4A1</text>
<line x1="400.5" y1="413.5" x2="403.5" y2="413.5" stroke="#333" stroke-width="1.1"/>
<text x="397.8" y="413.8" font-size="9.1" text-anchor="end" fill="#4d4d4d" dominant-baseline="central">NUPR1</text>
<line x1="400.5" y1="423.62" x2="403.5" y2="423.62" stroke="#333" stroke-width="1.1"/>
<text x="397.8" y="423.92" font-size="9.1" text-anchor="end" fill="#4d4d4d" dominant-baseline="central">EGR1</text>
<line x1="400.5" y1="433.74" x2="403.5" y2="433.74" stroke="#333" stroke-width="1.1"/>
<text x="397.8" y="434.04" font-size="9.1" text-anchor="end" fill="#4d4d4d" dominant-baseline="central">SLC38A2</text>
<line x1="400.5" y1="443.86" x2="403.5" y2="443.86" stroke="#333" stroke-width="1.1"/>
<text x="397.8" y="444.16" font-size="9.1" text-anchor="end" fill="#4d4d4d" dominant-baseline="central">CXCL2</text>
<line x1="400.5" y1="453.98" x2="403.5" y2="453.98" stroke="#333" stroke-width="1.1"/>
<text x="397.8" y="454.28" font-size="9.1" text-anchor="end" fill="#4d4d4d" dominant-baseline="central">TNFRSF12A</text>
<line x1="400.5" y1="464.1" x2="403.5" y2="464.1" stroke="#333" stroke-width="1.1"/>
<text x="397.8" y="464.4" font-size="9.1" text-anchor="end" fill="#4d4d4d" dominant-baseline="central">ZFP36</text>
<line x1="400.5" y1="474.22" x2="403.5" y2="474.22" stroke="#333" stroke-width="1.1"/>
<text x="397.8" y="474.52" font-size="9.1" text-anchor="end" fill="#4d4d4d" dominant-baseline="central">THBD</text>
<line x1="400.5" y1="484.34" x2="403.5" y2="484.34" stroke="#333" stroke-width="1.1"/>
<text x="397.8" y="484.64" font-size="9.1" text-anchor="end" fill="#4d4d4d" dominant-baseline="central">LAMA4</text>
<line x1="400.5" y1="494.46" x2="403.5" y2="494.46" stroke="#333" stroke-width="1.1"/>
<text x="397.8" y="494.76" font-size="9.1" text-anchor="end" fill="#4d4d4d" dominant-baseline="central">DENND2D</text>
<line x1="400.5" y1="504.58" x2="403.5" y2="504.58" stroke="#333" stroke-width="1.1"/>
<text x="397.8" y="504.88" font-size="9.1" text-anchor="end" fill="#4d4d4d" dominant-baseline="central">PODXL</text>
<line x1="400.5" y1="514.7" x2="403.5" y2="514.7" stroke="#333" stroke-width="1.1"/>
<text x="397.8" y="515" font-size="9.1" text-anchor="end" fill="#4d4d4d" dominant-baseline="central">CYR61</text>
<line x1="400.5" y1="524.82" x2="403.5" y2="524.82" stroke="#333" stroke-width="1.1"/>
<text x="397.8" y="525.12" font-size="9.1" text-anchor="end" fill="#4d4d4d" dominant-baseline="central">JUN</text>
<line x1="400.5" y1="534.94" x2="403.5" y2="534.94" stroke="#333" stroke-width="1.1"/>
<text x="397.8" y="535.24" font-size="9.1" text-anchor="end" fill="#4d4d4d" dominant-baseline="central">C5AR1</text>
<line x1="400.5" y1="545.06" x2="403.5" y2="545.06" stroke="#333" stroke-width="1.1"/>
<text x="397.8" y="545.36" font-size="9.1" text-anchor="end" fill="#4d4d4d" dominant-baseline="central">ADAMTS1</text>
<line x1="400.5" y1="555.18" x2="403.5" y2="555.18" stroke="#333" stroke-width="1.1"/>
<text x="397.8" y="555.48" font-size="9.1" text-anchor="end" fill="#4d4d4d" dominant-baseline="central">IFNGR1</text>
<line x1="400.5" y1="565.3" x2="403.5" y2="565.3" stroke="#333" stroke-width="1.1"/>
<text x="397.8" y="565.6" font-size="9.1" text-anchor="end" fill="#4d4d4d" dominant-baseline="central">SERTAD1</text>
<line x1="400.5" y1="575.42" x2="403.5" y2="575.42" stroke="#333" stroke-width="1.1"/>
<text x="397.8" y="575.72" font-size="9.1" text-anchor="end" fill="#4d4d4d" dominant-baseline="central">LDLR</text>
<line x1="400.5" y1="585.54" x2="403.5" y2="585.54" stroke="#333" stroke-width="1.1"/>
<text x="397.8" y="585.84" font-size="9.1" text-anchor="end" fill="#4d4d4d" dominant-baseline="central">RHOB</text>
<line x1="400.5" y1="595.66" x2="403.5" y2="595.66" stroke="#333" stroke-width="1.1"/>
<text x="397.8" y="595.96" font-size="9.1" text-anchor="end" fill="#4d4d4d" dominant-baseline="central">FABP4</text>
<line x1="400.5" y1="605.78" x2="403.5" y2="605.78" stroke="#333" stroke-width="1.1"/>
<text x="397.8" y="606.08" font-size="9.1" text-anchor="end" fill="#4d4d4d" dominant-baseline="central">ARID5B</text>
<line x1="412.7" y1="611.3" x2="412.7" y2="614.3" stroke="#333" stroke-width="1.1"/>
<text x="412.7" y="621.9" font-size="9.3" text-anchor="middle" fill="#4d4d4d" dominant-baseline="central">0</text>
<line x1="461.05" y1="611.3" x2="461.05" y2="614.3" stroke="#333" stroke-width="1.1"/>
<text x="461.05" y="621.9" font-size="9.3" text-anchor="middle" fill="#4d4d4d" dominant-baseline="central">1</text>
<line x1="509.4" y1="611.3" x2="509.4" y2="614.3" stroke="#333" stroke-width="1.1"/>
<text x="509.4" y="621.9" font-size="9.3" text-anchor="middle" fill="#4d4d4d" dominant-baseline="central">2</text>
<line x1="557.75" y1="611.3" x2="557.75" y2="614.3" stroke="#333" stroke-width="1.1"/>
<text x="557.75" y="621.9" font-size="9.3" text-anchor="middle" fill="#4d4d4d" dominant-baseline="central">3</text>
<line x1="606.1" y1="611.3" x2="606.1" y2="614.3" stroke="#333" stroke-width="1.1"/>
<text x="606.1" y="621.9" font-size="9.3" text-anchor="middle" fill="#4d4d4d" dominant-baseline="central">4</text>
<text x="507" y="633" font-size="11.3" text-anchor="middle" fill="#000" dominant-baseline="central">Importance</text>
<text x="628.3" y="410.4" font-size="11.5" text-anchor="start" fill="#000" dominant-baseline="central">Importance</text>
<defs><linearGradient id="lg" x1="0" y1="1" x2="0" y2="0">
<stop offset="0" stop-color="#347a76"/>
<stop offset="0.1" stop-color="#4c746e"/>
<stop offset="0.2" stop-color="#5d6e65"/>
<stop offset="0.3" stop-color="#6a685d"/>
<stop offset="0.4" stop-color="#756255"/>
<stop offset="0.5" stop-color="#7f5b4d"/>
<stop offset="0.6" stop-color="#885345"/>
<stop offset="0.7" stop-color="#8f4b3d"/>
<stop offset="0.8" stop-color="#974235"/>
<stop offset="0.9" stop-color="#9d372e"/>
<stop offset="1" stop-color="#a32a26"/>
</linearGradient></defs>
<rect x="628.3" y="421" width="17.7" height="92.8" fill="url(#lg)"/>
<line x1="628.3" y1="508.3" x2="631.9" y2="508.3" stroke="#fff" stroke-width="0.9" stroke-opacity="0.75"/>
<line x1="642.4" y1="508.3" x2="646" y2="508.3" stroke="#fff" stroke-width="0.9" stroke-opacity="0.75"/>
<text x="651.5" y="508.3" font-size="9.6" text-anchor="start" fill="#111" dominant-baseline="central">1</text>
<line x1="628.3" y1="478.75" x2="631.9" y2="478.75" stroke="#fff" stroke-width="0.9" stroke-opacity="0.75"/>
<line x1="642.4" y1="478.75" x2="646" y2="478.75" stroke="#fff" stroke-width="0.9" stroke-opacity="0.75"/>
<text x="651.5" y="478.75" font-size="9.6" text-anchor="start" fill="#111" dominant-baseline="central">2</text>
<line x1="628.3" y1="449.2" x2="631.9" y2="449.2" stroke="#fff" stroke-width="0.9" stroke-opacity="0.75"/>
<line x1="642.4" y1="449.2" x2="646" y2="449.2" stroke="#fff" stroke-width="0.9" stroke-opacity="0.75"/>
<text x="651.5" y="449.2" font-size="9.6" text-anchor="start" fill="#111" dominant-baseline="central">3</text>
<text x="17" y="650.8" font-size="16.8" text-anchor="start" fill="#000" dominant-baseline="central">E</text>
<path d="M67.43 796.36 L75.46 704.68 L83.49 808.86 L91.52 808.86 L99.55 785.88 L107.58 763.52 L115.61 864.67 L123.64 797.77 L131.67 809.46 L139.7 855 L147.73 855.6 L155.76 764.93 L163.79 761.1 L171.82 784.68 L179.85 798.38 L187.88 785.88 L195.91 775.41 L203.94 821.55 L211.97 830.01 L220 796.36 L228.03 738.53 L236.06 714.96 L244.09 704.68 L252.12 727.05 L260.15 749.41 L268.18 728.05 L276.21 728.46 L284.24 716.17 L292.27 671.84 L300.3 692.99" fill="none" stroke="#4682BE" stroke-width="3.3" stroke-linejoin="round" stroke-linecap="round"/>
<circle cx="292.27" cy="671.84" r="2.9" fill="none" stroke="#d8413a" stroke-width="1.4"/>
<text x="285" y="671.6" font-size="11" text-anchor="end" fill="#d9423a" dominant-baseline="central">n=29 (0.784)</text>
<rect x="58.57" y="664.57" width="250.68" height="208.73" stroke="#000" stroke-width="1.25" fill="none"/>
<line x1="59.4" y1="873.3" x2="59.4" y2="880.3" stroke="#000" stroke-width="1"/>
<text x="59.4" y="893.8" font-size="10.6" text-anchor="middle" fill="#000" dominant-baseline="central">0</text>
<line x1="99.55" y1="873.3" x2="99.55" y2="880.3" stroke="#000" stroke-width="1"/>
<text x="99.55" y="893.8" font-size="10.6" text-anchor="middle" fill="#000" dominant-baseline="central">5</text>
<line x1="139.7" y1="873.3" x2="139.7" y2="880.3" stroke="#000" stroke-width="1"/>
<text x="139.7" y="893.8" font-size="10.6" text-anchor="middle" fill="#000" dominant-baseline="central">10</text>
<line x1="179.85" y1="873.3" x2="179.85" y2="880.3" stroke="#000" stroke-width="1"/>
<text x="179.85" y="893.8" font-size="10.6" text-anchor="middle" fill="#000" dominant-baseline="central">15</text>
<line x1="220" y1="873.3" x2="220" y2="880.3" stroke="#000" stroke-width="1"/>
<text x="220" y="893.8" font-size="10.6" text-anchor="middle" fill="#000" dominant-baseline="central">20</text>
<line x1="260.15" y1="873.3" x2="260.15" y2="880.3" stroke="#000" stroke-width="1"/>
<text x="260.15" y="893.8" font-size="10.6" text-anchor="middle" fill="#000" dominant-baseline="central">25</text>
<line x1="300.3" y1="873.3" x2="300.3" y2="880.3" stroke="#000" stroke-width="1"/>
<text x="300.3" y="893.8" font-size="10.6" text-anchor="middle" fill="#000" dominant-baseline="central">30</text>
<line x1="51.07" y1="841.7" x2="58.57" y2="841.7" stroke="#000" stroke-width="1"/>
<text x="38.3" y="841.7" font-size="10.9" text-anchor="middle" fill="#000" transform="rotate(-90 38.3 841.7)" dominant-baseline="central">0.70</text>
<line x1="51.07" y1="801.4" x2="58.57" y2="801.4" stroke="#000" stroke-width="1"/>
<text x="38.3" y="801.4" font-size="10.9" text-anchor="middle" fill="#000" transform="rotate(-90 38.3 801.4)" dominant-baseline="central">0.72</text>
<line x1="51.07" y1="761.1" x2="58.57" y2="761.1" stroke="#000" stroke-width="1"/>
<text x="38.3" y="761.1" font-size="10.9" text-anchor="middle" fill="#000" transform="rotate(-90 38.3 761.1)" dominant-baseline="central">0.74</text>
<line x1="51.07" y1="720.8" x2="58.57" y2="720.8" stroke="#000" stroke-width="1"/>
<text x="38.3" y="720.8" font-size="10.9" text-anchor="middle" fill="#000" transform="rotate(-90 38.3 720.8)" dominant-baseline="central">0.76</text>
<line x1="51.07" y1="680.5" x2="58.57" y2="680.5" stroke="#000" stroke-width="1"/>
<text x="38.3" y="680.5" font-size="10.9" text-anchor="middle" fill="#000" transform="rotate(-90 38.3 680.5)" dominant-baseline="central">0.78</text>
<text x="11.9" y="767.7" font-size="11" text-anchor="middle" fill="#000" transform="rotate(-90 11.9 767.7)" dominant-baseline="central">10 x CV Accuracy</text>
<text x="183.5" y="919.4" font-size="11" text-anchor="middle" fill="#000" dominant-baseline="central">Number of Features</text>
<text x="369" y="650.8" font-size="16.8" text-anchor="start" fill="#000" dominant-baseline="central">F</text>
<path d="M407.21 738.44 L415.21 830.12 L423.22 725.94 L431.23 725.94 L439.24 748.92 L447.24 771.28 L455.25 670.13 L463.26 737.03 L471.26 725.34 L479.27 679.8 L487.28 679.2 L495.28 769.87 L503.29 773.7 L511.3 750.12 L519.3 736.42 L527.31 748.92 L535.32 759.39 L543.33 713.25 L551.33 704.79 L559.34 738.44 L567.35 796.27 L575.35 819.84 L583.36 830.12 L591.37 807.75 L599.38 785.39 L607.38 806.75 L615.39 806.34 L623.4 818.63 L631.4 862.96 L639.41 841.81" fill="none" stroke="#4682BE" stroke-width="3.3" stroke-linejoin="round" stroke-linecap="round"/>
<circle cx="631.4" cy="862.96" r="2.9" fill="none" stroke="#d8413a" stroke-width="1.4"/>
<text x="624.8" y="861.5" font-size="11" text-anchor="end" fill="#d9423a" dominant-baseline="central">n=29 (0.216)</text>
<rect x="398.57" y="661.75" width="250.47" height="208.68" stroke="#000" stroke-width="1.25" fill="none"/>
<line x1="399.2" y1="870.43" x2="399.2" y2="877.43" stroke="#000" stroke-width="1"/>
<text x="399.2" y="890.5" font-size="10.6" text-anchor="middle" fill="#000" dominant-baseline="central">0</text>
<line x1="439.24" y1="870.43" x2="439.24" y2="877.43" stroke="#000" stroke-width="1"/>
<text x="439.24" y="890.5" font-size="10.6" text-anchor="middle" fill="#000" dominant-baseline="central">5</text>
<line x1="479.27" y1="870.43" x2="479.27" y2="877.43" stroke="#000" stroke-width="1"/>
<text x="479.27" y="890.5" font-size="10.6" text-anchor="middle" fill="#000" dominant-baseline="central">10</text>
<line x1="519.3" y1="870.43" x2="519.3" y2="877.43" stroke="#000" stroke-width="1"/>
<text x="519.3" y="890.5" font-size="10.6" text-anchor="middle" fill="#000" dominant-baseline="central">15</text>
<line x1="559.34" y1="870.43" x2="559.34" y2="877.43" stroke="#000" stroke-width="1"/>
<text x="559.34" y="890.5" font-size="10.6" text-anchor="middle" fill="#000" dominant-baseline="central">20</text>
<line x1="599.38" y1="870.43" x2="599.38" y2="877.43" stroke="#000" stroke-width="1"/>
<text x="599.38" y="890.5" font-size="10.6" text-anchor="middle" fill="#000" dominant-baseline="central">25</text>
<line x1="639.41" y1="870.43" x2="639.41" y2="877.43" stroke="#000" stroke-width="1"/>
<text x="639.41" y="890.5" font-size="10.6" text-anchor="middle" fill="#000" dominant-baseline="central">30</text>
<line x1="391.07" y1="854.3" x2="398.57" y2="854.3" stroke="#000" stroke-width="1"/>
<text x="378.6" y="854.3" font-size="10.9" text-anchor="middle" fill="#000" transform="rotate(-90 378.6 854.3)" dominant-baseline="central">0.22</text>
<line x1="391.07" y1="814" x2="398.57" y2="814" stroke="#000" stroke-width="1"/>
<text x="378.6" y="814" font-size="10.9" text-anchor="middle" fill="#000" transform="rotate(-90 378.6 814)" dominant-baseline="central">0.24</text>
<line x1="391.07" y1="773.7" x2="398.57" y2="773.7" stroke="#000" stroke-width="1"/>
<text x="378.6" y="773.7" font-size="10.9" text-anchor="middle" fill="#000" transform="rotate(-90 378.6 773.7)" dominant-baseline="central">0.26</text>
<line x1="391.07" y1="733.4" x2="398.57" y2="733.4" stroke="#000" stroke-width="1"/>
<text x="378.6" y="733.4" font-size="10.9" text-anchor="middle" fill="#000" transform="rotate(-90 378.6 733.4)" dominant-baseline="central">0.28</text>
<line x1="391.07" y1="693.1" x2="398.57" y2="693.1" stroke="#000" stroke-width="1"/>
<text x="378.6" y="693.1" font-size="10.9" text-anchor="middle" fill="#000" transform="rotate(-90 378.6 693.1)" dominant-baseline="central">0.30</text>
<text x="351.8" y="765.1" font-size="10.9" text-anchor="middle" fill="#000" transform="rotate(-90 351.8 765.1)" dominant-baseline="central">10 x CV Error</text>
<text x="523.7" y="917.4" font-size="11" text-anchor="middle" fill="#000" dominant-baseline="central">Number of Features</text>
</svg></body></html>
